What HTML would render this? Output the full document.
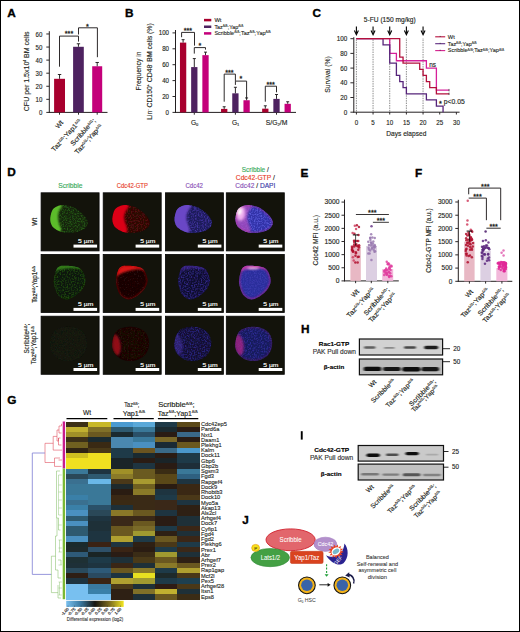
<!DOCTYPE html>
<html><head><meta charset="utf-8"><style>
html,body{margin:0;padding:0;background:#fff;}
body{width:520px;height:632px;overflow:hidden;}
svg{display:block;}
text{font-family:"Liberation Sans", sans-serif;}
</style></head><body>
<svg width="520" height="632" viewBox="0 0 520 632">
<rect x="0" y="0" width="520" height="632" fill="#fff"/>
<text x="7.2" y="17.3" font-size="11.8" font-weight="bold" fill="#000" stroke="#000" stroke-width="0.35">A</text>
<line x1="49.30" y1="31.20" x2="49.30" y2="112.80" stroke="#231f20" stroke-width="1" />
<line x1="48.80" y1="112.40" x2="107.50" y2="112.40" stroke="#231f20" stroke-width="1" />
<line x1="46.30" y1="112.40" x2="49.30" y2="112.40" stroke="#231f20" stroke-width="0.95" />
<text x="42.30" y="115.00" font-size="7.0" fill="#231f20" stroke="#231f20" stroke-width="0.14" textLength="3.40" lengthAdjust="spacingAndGlyphs" text-anchor="end" >0</text>
<line x1="46.30" y1="99.33" x2="49.30" y2="99.33" stroke="#231f20" stroke-width="0.95" />
<text x="42.30" y="101.93" font-size="7.0" fill="#231f20" stroke="#231f20" stroke-width="0.14" textLength="6.80" lengthAdjust="spacingAndGlyphs" text-anchor="end" >10</text>
<line x1="46.30" y1="86.26" x2="49.30" y2="86.26" stroke="#231f20" stroke-width="0.95" />
<text x="42.30" y="88.86" font-size="7.0" fill="#231f20" stroke="#231f20" stroke-width="0.14" textLength="6.80" lengthAdjust="spacingAndGlyphs" text-anchor="end" >20</text>
<line x1="46.30" y1="73.19" x2="49.30" y2="73.19" stroke="#231f20" stroke-width="0.95" />
<text x="42.30" y="75.79" font-size="7.0" fill="#231f20" stroke="#231f20" stroke-width="0.14" textLength="6.80" lengthAdjust="spacingAndGlyphs" text-anchor="end" >30</text>
<line x1="46.30" y1="60.12" x2="49.30" y2="60.12" stroke="#231f20" stroke-width="0.95" />
<text x="42.30" y="62.72" font-size="7.0" fill="#231f20" stroke="#231f20" stroke-width="0.14" textLength="6.80" lengthAdjust="spacingAndGlyphs" text-anchor="end" >40</text>
<line x1="46.30" y1="47.05" x2="49.30" y2="47.05" stroke="#231f20" stroke-width="0.95" />
<text x="42.30" y="49.65" font-size="7.0" fill="#231f20" stroke="#231f20" stroke-width="0.14" textLength="6.80" lengthAdjust="spacingAndGlyphs" text-anchor="end" >50</text>
<line x1="46.30" y1="33.98" x2="49.30" y2="33.98" stroke="#231f20" stroke-width="0.95" />
<text x="42.30" y="36.58" font-size="7.0" fill="#231f20" stroke="#231f20" stroke-width="0.14" textLength="6.80" lengthAdjust="spacingAndGlyphs" text-anchor="end" >60</text>
<rect x="54.10" y="78.81" width="10.90" height="33.59" fill="#a8002e" />
<line x1="59.55" y1="78.81" x2="59.55" y2="74.50" stroke="#231f20" stroke-width="0.95" />
<line x1="57.85" y1="74.50" x2="61.25" y2="74.50" stroke="#231f20" stroke-width="0.95" />
<rect x="73.10" y="46.79" width="10.70" height="65.61" fill="#4e2260" />
<line x1="78.45" y1="46.79" x2="78.45" y2="43.78" stroke="#231f20" stroke-width="0.95" />
<line x1="76.75" y1="43.78" x2="80.15" y2="43.78" stroke="#231f20" stroke-width="0.95" />
<rect x="92.20" y="66.26" width="10.00" height="46.14" fill="#c4007a" />
<line x1="97.20" y1="66.26" x2="97.20" y2="62.47" stroke="#231f20" stroke-width="0.95" />
<line x1="95.50" y1="62.47" x2="98.90" y2="62.47" stroke="#231f20" stroke-width="0.95" />
<line x1="59.50" y1="112.40" x2="59.50" y2="114.70" stroke="#231f20" stroke-width="0.95" />
<line x1="78.50" y1="112.40" x2="78.50" y2="114.70" stroke="#231f20" stroke-width="0.95" />
<line x1="97.20" y1="112.40" x2="97.20" y2="114.70" stroke="#231f20" stroke-width="0.95" />
<polyline points="59.50,66.70 59.50,36.10 78.50,36.10 78.50,41.60" stroke="#231f20" stroke-width="0.95" fill="none" />
<polyline points="78.50,34.50 78.50,27.80 97.40,27.80 97.40,57.20" stroke="#231f20" stroke-width="0.95" fill="none" />
<text x="69.00" y="36.35" font-size="7.2" fill="#231f20" stroke="#231f20" stroke-width="0.3" text-anchor="middle" >***</text>
<text x="87.50" y="28.95" font-size="7.2" fill="#231f20" stroke="#231f20" stroke-width="0.3" text-anchor="middle" >*</text>
<text transform="translate(29.00 71.30) rotate(-90)" font-size="7.6" fill="#231f20" stroke="#231f20" stroke-width="0.14" textLength="79.80" lengthAdjust="spacingAndGlyphs" text-anchor="middle" >CFU per 1.5x10<tspan font-size="3.6" dy="-2.6">4</tspan><tspan dy="2.6">&#8203;</tspan> BM cells</text>
<text transform="translate(63.60 123.00) rotate(-48)" font-size="6.6" fill="#231f20" stroke="#231f20" stroke-width="0.14" text-anchor="end" >Wt</text>
<text transform="translate(81.80 121.50) rotate(-48)" font-size="6.6" fill="#231f20" stroke="#231f20" stroke-width="0.14" textLength="41.00" lengthAdjust="spacingAndGlyphs" text-anchor="end" >Taz<tspan font-size="3.6" dy="-2.3">Δ/Δ</tspan><tspan dy="2.3">&#8203;</tspan>;Yap1<tspan font-size="3.6" dy="-2.3">Δ/Δ</tspan><tspan dy="2.3">&#8203;</tspan></text>
<text transform="translate(96.00 121.00) rotate(-48)" font-size="6.6" fill="#231f20" stroke="#231f20" stroke-width="0.14" textLength="34.00" lengthAdjust="spacingAndGlyphs" text-anchor="end" >Scribble<tspan font-size="3.6" dy="-2.3">Δ/Δ</tspan><tspan dy="2.3">&#8203;</tspan>;</text>
<text transform="translate(103.00 126.50) rotate(-48)" font-size="6.6" fill="#231f20" stroke="#231f20" stroke-width="0.14" textLength="38.00" lengthAdjust="spacingAndGlyphs" text-anchor="end" >Taz<tspan font-size="3.6" dy="-2.3">Δ/Δ</tspan><tspan dy="2.3">&#8203;</tspan>;Yap<tspan font-size="3.6" dy="-2.3">Δ/Δ</tspan><tspan dy="2.3">&#8203;</tspan></text>
<text x="124.9" y="17.1" font-size="11.8" font-weight="bold" fill="#000" stroke="#000" stroke-width="0.35">B</text>
<line x1="175.50" y1="30.00" x2="175.50" y2="112.80" stroke="#231f20" stroke-width="1" />
<line x1="175.00" y1="112.40" x2="296.00" y2="112.40" stroke="#231f20" stroke-width="1" />
<line x1="172.50" y1="112.40" x2="175.50" y2="112.40" stroke="#231f20" stroke-width="0.95" />
<text x="169.00" y="114.80" font-size="6.8" fill="#231f20" stroke="#231f20" stroke-width="0.14" textLength="3.42" lengthAdjust="spacingAndGlyphs" text-anchor="end" >0</text>
<line x1="172.50" y1="96.50" x2="175.50" y2="96.50" stroke="#231f20" stroke-width="0.95" />
<text x="169.00" y="98.90" font-size="6.8" fill="#231f20" stroke="#231f20" stroke-width="0.14" textLength="6.84" lengthAdjust="spacingAndGlyphs" text-anchor="end" >20</text>
<line x1="172.50" y1="80.60" x2="175.50" y2="80.60" stroke="#231f20" stroke-width="0.95" />
<text x="169.00" y="83.00" font-size="6.8" fill="#231f20" stroke="#231f20" stroke-width="0.14" textLength="6.84" lengthAdjust="spacingAndGlyphs" text-anchor="end" >40</text>
<line x1="172.50" y1="64.70" x2="175.50" y2="64.70" stroke="#231f20" stroke-width="0.95" />
<text x="169.00" y="67.10" font-size="6.8" fill="#231f20" stroke="#231f20" stroke-width="0.14" textLength="6.84" lengthAdjust="spacingAndGlyphs" text-anchor="end" >60</text>
<line x1="172.50" y1="48.80" x2="175.50" y2="48.80" stroke="#231f20" stroke-width="0.95" />
<text x="169.00" y="51.20" font-size="6.8" fill="#231f20" stroke="#231f20" stroke-width="0.14" textLength="6.84" lengthAdjust="spacingAndGlyphs" text-anchor="end" >80</text>
<line x1="172.50" y1="32.90" x2="175.50" y2="32.90" stroke="#231f20" stroke-width="0.95" />
<text x="169.00" y="35.30" font-size="6.8" fill="#231f20" stroke="#231f20" stroke-width="0.14" textLength="10.26" lengthAdjust="spacingAndGlyphs" text-anchor="end" >100</text>
<line x1="194.30" y1="112.40" x2="194.30" y2="114.70" stroke="#231f20" stroke-width="0.95" />
<rect x="179.95" y="42.60" width="6.30" height="69.80" fill="#a8002e" />
<line x1="183.10" y1="42.60" x2="183.10" y2="39.66" stroke="#231f20" stroke-width="0.95" />
<line x1="181.60" y1="39.66" x2="184.60" y2="39.66" stroke="#231f20" stroke-width="0.95" />
<rect x="191.15" y="67.09" width="6.30" height="45.32" fill="#4e2260" />
<line x1="194.30" y1="67.09" x2="194.30" y2="58.58" stroke="#231f20" stroke-width="0.95" />
<line x1="192.80" y1="58.58" x2="195.80" y2="58.58" stroke="#231f20" stroke-width="0.95" />
<rect x="202.35" y="55.16" width="6.30" height="57.24" fill="#c4007a" />
<line x1="205.50" y1="55.16" x2="205.50" y2="52.14" stroke="#231f20" stroke-width="0.95" />
<line x1="204.00" y1="52.14" x2="207.00" y2="52.14" stroke="#231f20" stroke-width="0.95" />
<line x1="235.40" y1="112.40" x2="235.40" y2="114.70" stroke="#231f20" stroke-width="0.95" />
<rect x="221.05" y="108.90" width="6.30" height="3.50" fill="#a8002e" />
<line x1="224.20" y1="108.90" x2="224.20" y2="106.76" stroke="#231f20" stroke-width="0.95" />
<line x1="222.70" y1="106.76" x2="225.70" y2="106.76" stroke="#231f20" stroke-width="0.95" />
<rect x="232.25" y="93.32" width="6.30" height="19.08" fill="#4e2260" />
<line x1="235.40" y1="93.32" x2="235.40" y2="87.28" stroke="#231f20" stroke-width="0.95" />
<line x1="233.90" y1="87.28" x2="236.90" y2="87.28" stroke="#231f20" stroke-width="0.95" />
<rect x="243.45" y="100.24" width="6.30" height="12.16" fill="#c4007a" />
<line x1="246.60" y1="100.24" x2="246.60" y2="97.93" stroke="#231f20" stroke-width="0.95" />
<line x1="245.10" y1="97.93" x2="248.10" y2="97.93" stroke="#231f20" stroke-width="0.95" />
<line x1="276.50" y1="112.40" x2="276.50" y2="114.70" stroke="#231f20" stroke-width="0.95" />
<rect x="262.15" y="108.66" width="6.30" height="3.74" fill="#a8002e" />
<line x1="265.30" y1="108.66" x2="265.30" y2="105.80" stroke="#231f20" stroke-width="0.95" />
<line x1="263.80" y1="105.80" x2="266.80" y2="105.80" stroke="#231f20" stroke-width="0.95" />
<rect x="273.35" y="98.89" width="6.30" height="13.52" fill="#4e2260" />
<line x1="276.50" y1="98.89" x2="276.50" y2="94.51" stroke="#231f20" stroke-width="0.95" />
<line x1="275.00" y1="94.51" x2="278.00" y2="94.51" stroke="#231f20" stroke-width="0.95" />
<rect x="284.55" y="103.81" width="6.30" height="8.59" fill="#c4007a" />
<line x1="287.70" y1="103.81" x2="287.70" y2="101.75" stroke="#231f20" stroke-width="0.95" />
<line x1="286.20" y1="101.75" x2="289.20" y2="101.75" stroke="#231f20" stroke-width="0.95" />
<polyline points="181.60,37.20 181.60,32.40 194.50,32.40 194.50,45.60" stroke="#231f20" stroke-width="0.95" fill="none" />
<text x="187.90" y="33.15" font-size="7.2" fill="#231f20" stroke="#231f20" stroke-width="0.3" text-anchor="middle" >***</text>
<polyline points="194.30,53.60 194.30,47.60 205.50,47.60 205.50,49.60" stroke="#231f20" stroke-width="0.95" fill="none" />
<text x="199.90" y="48.15" font-size="7.2" fill="#231f20" stroke="#231f20" stroke-width="0.3" text-anchor="middle" >*</text>
<polyline points="224.20,101.70 224.20,74.10 235.40,74.10 235.40,80.90" stroke="#231f20" stroke-width="0.95" fill="none" />
<text x="229.40" y="75.15" font-size="7.2" fill="#231f20" stroke="#231f20" stroke-width="0.3" text-anchor="middle" >***</text>
<polyline points="235.40,84.90 235.40,81.10 246.60,81.10 246.60,99.00" stroke="#231f20" stroke-width="0.95" fill="none" />
<text x="241.00" y="81.35" font-size="7.2" fill="#231f20" stroke="#231f20" stroke-width="0.3" text-anchor="middle" >*</text>
<polyline points="265.30,101.70 265.30,86.20 276.50,86.20 276.50,92.30" stroke="#231f20" stroke-width="0.95" fill="none" />
<text x="270.60" y="86.65" font-size="7.2" fill="#231f20" stroke="#231f20" stroke-width="0.3" text-anchor="middle" >***</text>
<text x="194.60" y="124.60" font-size="6.6" fill="#231f20" stroke="#231f20" stroke-width="0.14" text-anchor="middle" >G<tspan font-size="4" dy="1.2">0</tspan><tspan dy="-1.2">&#8203;</tspan></text>
<text x="235.60" y="124.60" font-size="6.6" fill="#231f20" stroke="#231f20" stroke-width="0.14" text-anchor="middle" >G<tspan font-size="4" dy="1.2">1</tspan><tspan dy="-1.2">&#8203;</tspan></text>
<text x="276.60" y="124.60" font-size="6.6" fill="#231f20" stroke="#231f20" stroke-width="0.14" textLength="21.50" lengthAdjust="spacingAndGlyphs" text-anchor="middle" >S/G<tspan font-size="4" dy="1.2">2</tspan><tspan dy="-1.2">&#8203;</tspan>/M</text>
<text transform="translate(140.60 71.00) rotate(-90)" font-size="7.0" fill="#231f20" stroke="#231f20" stroke-width="0.14" textLength="38.80" lengthAdjust="spacingAndGlyphs" text-anchor="middle" >Frequency in</text>
<text transform="translate(151.60 71.50) rotate(-90)" font-size="7.0" fill="#231f20" stroke="#231f20" stroke-width="0.14" textLength="96.50" lengthAdjust="spacingAndGlyphs" text-anchor="middle" >Lin<tspan font-size="3.6" dy="-2.6">-</tspan><tspan dy="2.6">&#8203;</tspan> CD150<tspan font-size="3.6" dy="-2.6">+</tspan><tspan dy="2.6">&#8203;</tspan> CD48<tspan font-size="3.6" dy="-2.6">-</tspan><tspan dy="2.6">&#8203;</tspan> BM cells (%)</text>
<rect x="204.00" y="18.85" width="7.30" height="2.50" fill="#a8002e" />
<text x="214.40" y="21.90" font-size="5.1" fill="#231f20" stroke="#231f20" stroke-width="0.1" textLength="7.00" lengthAdjust="spacingAndGlyphs" >Wt</text>
<rect x="204.00" y="25.50" width="7.30" height="2.50" fill="#4e2260" />
<text x="214.40" y="28.55" font-size="5.1" fill="#231f20" stroke="#231f20" stroke-width="0.1" textLength="28.90" lengthAdjust="spacingAndGlyphs" >Taz<tspan font-size="3" dy="-1.8">Δ/Δ</tspan><tspan dy="1.8">&#8203;</tspan>;Yap<tspan font-size="3" dy="-1.8">Δ/Δ</tspan><tspan dy="1.8">&#8203;</tspan></text>
<rect x="204.00" y="32.15" width="7.30" height="2.50" fill="#c4007a" />
<text x="214.40" y="35.20" font-size="5.1" fill="#231f20" stroke="#231f20" stroke-width="0.1" textLength="56.30" lengthAdjust="spacingAndGlyphs" >Scribble<tspan font-size="3" dy="-1.8">Δ/Δ</tspan><tspan dy="1.8">&#8203;</tspan>;Taz<tspan font-size="3" dy="-1.8">Δ/Δ</tspan><tspan dy="1.8">&#8203;</tspan>;Yap<tspan font-size="3" dy="-1.8">Δ/Δ</tspan><tspan dy="1.8">&#8203;</tspan></text>
<text x="312.4" y="17.3" font-size="11.8" font-weight="bold" fill="#000" stroke="#000" stroke-width="0.35">C</text>
<line x1="353.80" y1="37.20" x2="353.80" y2="112.60" stroke="#231f20" stroke-width="1" />
<line x1="353.30" y1="112.20" x2="459.60" y2="112.20" stroke="#231f20" stroke-width="1" />
<line x1="350.40" y1="112.20" x2="353.80" y2="112.20" stroke="#231f20" stroke-width="0.95" />
<text x="347.20" y="114.60" font-size="6.8" fill="#231f20" stroke="#231f20" stroke-width="0.14" textLength="3.52" lengthAdjust="spacingAndGlyphs" text-anchor="end" >0</text>
<line x1="350.40" y1="97.50" x2="353.80" y2="97.50" stroke="#231f20" stroke-width="0.95" />
<text x="347.20" y="99.90" font-size="6.8" fill="#231f20" stroke="#231f20" stroke-width="0.14" textLength="7.04" lengthAdjust="spacingAndGlyphs" text-anchor="end" >20</text>
<line x1="350.40" y1="82.80" x2="353.80" y2="82.80" stroke="#231f20" stroke-width="0.95" />
<text x="347.20" y="85.20" font-size="6.8" fill="#231f20" stroke="#231f20" stroke-width="0.14" textLength="7.04" lengthAdjust="spacingAndGlyphs" text-anchor="end" >40</text>
<line x1="350.40" y1="68.10" x2="353.80" y2="68.10" stroke="#231f20" stroke-width="0.95" />
<text x="347.20" y="70.50" font-size="6.8" fill="#231f20" stroke="#231f20" stroke-width="0.14" textLength="7.04" lengthAdjust="spacingAndGlyphs" text-anchor="end" >60</text>
<line x1="350.40" y1="53.40" x2="353.80" y2="53.40" stroke="#231f20" stroke-width="0.95" />
<text x="347.20" y="55.80" font-size="6.8" fill="#231f20" stroke="#231f20" stroke-width="0.14" textLength="7.04" lengthAdjust="spacingAndGlyphs" text-anchor="end" >80</text>
<line x1="350.40" y1="38.70" x2="353.80" y2="38.70" stroke="#231f20" stroke-width="0.95" />
<text x="347.20" y="41.10" font-size="6.8" fill="#231f20" stroke="#231f20" stroke-width="0.14" textLength="10.56" lengthAdjust="spacingAndGlyphs" text-anchor="end" >100</text>
<line x1="356.40" y1="112.20" x2="356.40" y2="114.50" stroke="#231f20" stroke-width="0.95" />
<text x="356.40" y="124.70" font-size="7.0" fill="#231f20" stroke="#231f20" stroke-width="0.14" textLength="3.45" lengthAdjust="spacingAndGlyphs" text-anchor="middle" >0</text>
<line x1="373.06" y1="112.20" x2="373.06" y2="114.50" stroke="#231f20" stroke-width="0.95" />
<text x="373.06" y="124.70" font-size="7.0" fill="#231f20" stroke="#231f20" stroke-width="0.14" textLength="3.45" lengthAdjust="spacingAndGlyphs" text-anchor="middle" >5</text>
<line x1="389.73" y1="112.20" x2="389.73" y2="114.50" stroke="#231f20" stroke-width="0.95" />
<text x="389.73" y="124.70" font-size="7.0" fill="#231f20" stroke="#231f20" stroke-width="0.14" textLength="6.90" lengthAdjust="spacingAndGlyphs" text-anchor="middle" >10</text>
<line x1="406.39" y1="112.20" x2="406.39" y2="114.50" stroke="#231f20" stroke-width="0.95" />
<text x="406.39" y="124.70" font-size="7.0" fill="#231f20" stroke="#231f20" stroke-width="0.14" textLength="6.90" lengthAdjust="spacingAndGlyphs" text-anchor="middle" >15</text>
<line x1="423.06" y1="112.20" x2="423.06" y2="114.50" stroke="#231f20" stroke-width="0.95" />
<text x="423.06" y="124.70" font-size="7.0" fill="#231f20" stroke="#231f20" stroke-width="0.14" textLength="6.90" lengthAdjust="spacingAndGlyphs" text-anchor="middle" >20</text>
<line x1="439.72" y1="112.20" x2="439.72" y2="114.50" stroke="#231f20" stroke-width="0.95" />
<text x="439.72" y="124.70" font-size="7.0" fill="#231f20" stroke="#231f20" stroke-width="0.14" textLength="6.90" lengthAdjust="spacingAndGlyphs" text-anchor="middle" >25</text>
<line x1="456.39" y1="112.20" x2="456.39" y2="114.50" stroke="#231f20" stroke-width="0.95" />
<text x="456.39" y="124.70" font-size="7.0" fill="#231f20" stroke="#231f20" stroke-width="0.14" textLength="6.90" lengthAdjust="spacingAndGlyphs" text-anchor="middle" >30</text>
<line x1="356.40" y1="38.70" x2="356.40" y2="112.20" stroke="#111" stroke-width="0.7" stroke-dasharray="0.7 1.0"/>
<line x1="356.40" y1="26.50" x2="356.40" y2="33.50" stroke="#000" stroke-width="1.1" />
<path d="M354.40,30.6 L356.40,34.8 L358.40,30.6" fill="none" stroke="#000" stroke-width="1.1"/>
<line x1="373.06" y1="38.70" x2="373.06" y2="112.20" stroke="#111" stroke-width="0.7" stroke-dasharray="0.7 1.0"/>
<line x1="373.06" y1="26.50" x2="373.06" y2="33.50" stroke="#000" stroke-width="1.1" />
<path d="M371.06,30.6 L373.06,34.8 L375.06,30.6" fill="none" stroke="#000" stroke-width="1.1"/>
<line x1="389.73" y1="38.70" x2="389.73" y2="112.20" stroke="#111" stroke-width="0.7" stroke-dasharray="0.7 1.0"/>
<line x1="389.73" y1="26.50" x2="389.73" y2="33.50" stroke="#000" stroke-width="1.1" />
<path d="M387.73,30.6 L389.73,34.8 L391.73,30.6" fill="none" stroke="#000" stroke-width="1.1"/>
<line x1="406.39" y1="38.70" x2="406.39" y2="112.20" stroke="#111" stroke-width="0.7" stroke-dasharray="0.7 1.0"/>
<line x1="406.39" y1="26.50" x2="406.39" y2="33.50" stroke="#000" stroke-width="1.1" />
<path d="M404.39,30.6 L406.39,34.8 L408.39,30.6" fill="none" stroke="#000" stroke-width="1.1"/>
<line x1="423.06" y1="38.70" x2="423.06" y2="112.20" stroke="#111" stroke-width="0.7" stroke-dasharray="0.7 1.0"/>
<line x1="423.06" y1="26.50" x2="423.06" y2="33.50" stroke="#000" stroke-width="1.1" />
<path d="M421.06,30.6 L423.06,34.8 L425.06,30.6" fill="none" stroke="#000" stroke-width="1.1"/>
<text x="389.80" y="22.30" font-size="6.6" fill="#231f20" stroke="#231f20" stroke-width="0.14" textLength="51.90" lengthAdjust="spacingAndGlyphs" text-anchor="middle" >5-FU (150 mg/kg)</text>
<text x="406.30" y="135.80" font-size="7.4" fill="#231f20" stroke="#231f20" stroke-width="0.14" textLength="40.00" lengthAdjust="spacingAndGlyphs" text-anchor="middle" >Days elapsed</text>
<text transform="translate(330.20 74.50) rotate(-90)" font-size="7.6" fill="#231f20" stroke="#231f20" stroke-width="0.14" textLength="36.30" lengthAdjust="spacingAndGlyphs" text-anchor="middle" >Survival (%)</text>
<polyline points="356.40,38.70 389.73,38.70 389.73,53.40 396.40,53.40 396.40,60.75 426.39,60.75 426.39,68.10 436.39,68.10 436.39,90.15 449.06,90.15" stroke="#d6209a" stroke-width="1.3" fill="none" />
<polyline points="356.40,38.70 383.06,38.70 383.06,44.80 389.73,44.80 389.73,63.18 396.40,63.18 396.40,75.45 399.73,75.45 399.73,81.55 403.06,81.55 403.06,87.72 406.39,87.72 406.39,93.83 426.39,93.83 426.39,99.93 436.39,99.93 436.39,106.10 443.06,106.10 443.06,112.20 443.06,112.20" stroke="#56247a" stroke-width="1.3" fill="none" />
<polyline points="356.40,38.70 399.73,38.70 399.73,57.08 403.06,57.08 403.06,63.18 419.73,63.18 419.73,69.35 423.06,69.35 423.06,75.45 426.39,75.45 426.39,81.55 429.73,81.55 429.73,87.72 436.39,87.72 436.39,93.83 449.06,93.83" stroke="#b3103c" stroke-width="1.3" fill="none" />
<line x1="449.06" y1="88.95" x2="449.06" y2="91.35" stroke="#222" stroke-width="0.7" />
<line x1="449.06" y1="92.62" x2="449.06" y2="95.03" stroke="#222" stroke-width="0.7" />
<text x="432.50" y="67.00" font-size="6.4" fill="#231f20" stroke="#231f20" stroke-width="0.14" text-anchor="middle" >ns</text>
<text x="440.30" y="105.75" font-size="7.2" fill="#231f20" stroke="#231f20" stroke-width="0.3" text-anchor="middle" >*</text>
<text x="443.80" y="103.60" font-size="6.6" fill="#231f20" stroke="#231f20" stroke-width="0.14" textLength="20.90" lengthAdjust="spacingAndGlyphs" >p&lt;0.05</text>
<line x1="435.20" y1="36.80" x2="445.20" y2="36.80" stroke="#b8103e" stroke-width="1.1" />
<line x1="440.20" y1="35.90" x2="440.20" y2="37.00" stroke="#222" stroke-width="0.6" />
<text x="447.80" y="38.60" font-size="5.1" fill="#231f20" stroke="#231f20" stroke-width="0.1" textLength="7.00" lengthAdjust="spacingAndGlyphs" >Wt</text>
<line x1="435.20" y1="43.70" x2="445.20" y2="43.70" stroke="#5e2a80" stroke-width="1.1" />
<line x1="440.20" y1="42.80" x2="440.20" y2="43.90" stroke="#222" stroke-width="0.6" />
<text x="447.80" y="45.50" font-size="5.1" fill="#231f20" stroke="#231f20" stroke-width="0.1" textLength="28.90" lengthAdjust="spacingAndGlyphs" >Taz<tspan font-size="3" dy="-1.8">Δ/Δ</tspan><tspan dy="1.8">&#8203;</tspan>;Yap<tspan font-size="3" dy="-1.8">Δ/Δ</tspan><tspan dy="1.8">&#8203;</tspan></text>
<line x1="435.20" y1="50.60" x2="445.20" y2="50.60" stroke="#d4208e" stroke-width="1.1" />
<line x1="440.20" y1="49.70" x2="440.20" y2="50.80" stroke="#222" stroke-width="0.6" />
<text x="447.80" y="52.40" font-size="5.1" fill="#231f20" stroke="#231f20" stroke-width="0.1" textLength="56.30" lengthAdjust="spacingAndGlyphs" >Scribble<tspan font-size="3" dy="-1.8">Δ/Δ</tspan><tspan dy="1.8">&#8203;</tspan>;Taz<tspan font-size="3" dy="-1.8">Δ/Δ</tspan><tspan dy="1.8">&#8203;</tspan>;Yap<tspan font-size="3" dy="-1.8">Δ/Δ</tspan><tspan dy="1.8">&#8203;</tspan></text>
<text x="7.3" y="176.2" font-size="11.8" font-weight="bold" fill="#000" stroke="#000" stroke-width="0.35">D</text>
<defs>
<filter id="blur1" x="-30%" y="-30%" width="160%" height="160%"><feGaussianBlur stdDeviation="1.0"/></filter>
<filter id="blur2" x="-30%" y="-30%" width="160%" height="160%"><feGaussianBlur stdDeviation="1.8"/></filter>
<filter id="soft" x="-10%" y="-10%" width="120%" height="120%"><feGaussianBlur stdDeviation="0.6"/></filter>
<filter id="speck" x="0" y="0" width="100%" height="100%">
<feTurbulence type="fractalNoise" baseFrequency="0.7" numOctaves="2" seed="4" result="n"/>
<feColorMatrix in="n" type="matrix" values="0 0 0 0 1  0 0 0 0 1  0 0 0 0 1  3.2 0 0 0 -1.35" result="a"/>
<feComposite in="SourceGraphic" in2="a" operator="in"/>
</filter>
</defs>
<rect x="41.10" y="192.80" width="58.00" height="58.10" fill="#13130b" stroke="#050505" stroke-width="0.8"/>
<rect x="103.20" y="192.80" width="58.00" height="58.10" fill="#13130b" stroke="#050505" stroke-width="0.8"/>
<rect x="165.40" y="192.80" width="58.00" height="58.10" fill="#13130b" stroke="#050505" stroke-width="0.8"/>
<rect x="226.30" y="192.80" width="58.00" height="58.10" fill="#13130b" stroke="#050505" stroke-width="0.8"/>
<rect x="41.10" y="254.40" width="58.00" height="58.10" fill="#13130b" stroke="#050505" stroke-width="0.8"/>
<rect x="103.20" y="254.40" width="58.00" height="58.10" fill="#13130b" stroke="#050505" stroke-width="0.8"/>
<rect x="165.40" y="254.40" width="58.00" height="58.10" fill="#13130b" stroke="#050505" stroke-width="0.8"/>
<rect x="226.30" y="254.40" width="58.00" height="58.10" fill="#13130b" stroke="#050505" stroke-width="0.8"/>
<rect x="41.10" y="316.20" width="58.00" height="58.10" fill="#13130b" stroke="#050505" stroke-width="0.8"/>
<rect x="103.20" y="316.20" width="58.00" height="58.10" fill="#13130b" stroke="#050505" stroke-width="0.8"/>
<rect x="165.40" y="316.20" width="58.00" height="58.10" fill="#13130b" stroke="#050505" stroke-width="0.8"/>
<rect x="226.30" y="316.20" width="58.00" height="58.10" fill="#13130b" stroke="#050505" stroke-width="0.8"/>
<text x="70.30" y="188.30" font-size="6.6" fill="#3bab5b" stroke="#3bab5b" stroke-width="0.14" textLength="24.20" lengthAdjust="spacingAndGlyphs" text-anchor="middle" >Scribble</text>
<text x="132.30" y="188.30" font-size="6.6" fill="#e8402a" stroke="#e8402a" stroke-width="0.14" textLength="31.00" lengthAdjust="spacingAndGlyphs" text-anchor="middle" >Cdc42-GTP</text>
<text x="194.20" y="188.30" font-size="6.6" fill="#8a52b8" stroke="#8a52b8" stroke-width="0.14" textLength="17.60" lengthAdjust="spacingAndGlyphs" text-anchor="middle" >Cdc42</text>
<text x="255.30" y="172.20" font-size="6.6" fill="#231f20" stroke="#231f20" stroke-width="0.14" textLength="27.00" lengthAdjust="spacingAndGlyphs" text-anchor="middle" ><tspan fill="#3bab5b" stroke="#3bab5b">Scribble</tspan> /</text>
<text x="255.30" y="179.70" font-size="6.6" fill="#231f20" stroke="#231f20" stroke-width="0.14" textLength="39.00" lengthAdjust="spacingAndGlyphs" text-anchor="middle" ><tspan fill="#e8402a" stroke="#e8402a">Cdc42-GTP</tspan> /</text>
<text x="255.30" y="187.80" font-size="6.6" fill="#231f20" stroke="#231f20" stroke-width="0.14" textLength="40.00" lengthAdjust="spacingAndGlyphs" text-anchor="middle" ><tspan fill="#8a52b8" stroke="#8a52b8">Cdc42</tspan> / <tspan fill="#3a3aa8" stroke="#3a3aa8">DAPI</tspan></text>
<text transform="translate(36.70 221.80) rotate(-90)" font-size="6.6" fill="#231f20" stroke="#231f20" stroke-width="0.14" text-anchor="middle" >Wt</text>
<text transform="translate(37.20 284.50) rotate(-90)" font-size="6.6" fill="#231f20" stroke="#231f20" stroke-width="0.14" textLength="36.50" lengthAdjust="spacingAndGlyphs" text-anchor="middle" >Taz<tspan font-size="3.6" dy="-2.4">Δ/Δ</tspan><tspan dy="2.4">&#8203;</tspan>;Yap1<tspan font-size="3.6" dy="-2.4">Δ/Δ</tspan><tspan dy="2.4">&#8203;</tspan></text>
<text transform="translate(28.90 338.60) rotate(-90)" font-size="6.6" fill="#231f20" stroke="#231f20" stroke-width="0.14" textLength="30.00" lengthAdjust="spacingAndGlyphs" text-anchor="middle" >Scribble<tspan font-size="3.6" dy="-2.4">Δ/Δ</tspan><tspan dy="2.4">&#8203;</tspan>;</text>
<text transform="translate(36.20 345.20) rotate(-90)" font-size="6.6" fill="#231f20" stroke="#231f20" stroke-width="0.14" textLength="38.00" lengthAdjust="spacingAndGlyphs" text-anchor="middle" >Taz<tspan font-size="3.6" dy="-2.4">Δ/Δ</tspan><tspan dy="2.4">&#8203;</tspan>;Yap1<tspan font-size="3.6" dy="-2.4">Δ/Δ</tspan><tspan dy="2.4">&#8203;</tspan></text>
<rect x="73.50" y="244.60" width="23.60" height="3.00" fill="#fff" />
<text x="85.70" y="243.10" font-size="6.2" fill="#fff" stroke="#fff" stroke-width="0.14" textLength="15.20" lengthAdjust="spacingAndGlyphs" text-anchor="middle" >5 µm</text>
<rect x="135.60" y="244.60" width="23.60" height="3.00" fill="#fff" />
<text x="147.80" y="243.10" font-size="6.2" fill="#fff" stroke="#fff" stroke-width="0.14" textLength="15.20" lengthAdjust="spacingAndGlyphs" text-anchor="middle" >5 µm</text>
<rect x="197.80" y="244.60" width="23.60" height="3.00" fill="#fff" />
<text x="210.00" y="243.10" font-size="6.2" fill="#fff" stroke="#fff" stroke-width="0.14" textLength="15.20" lengthAdjust="spacingAndGlyphs" text-anchor="middle" >5 µm</text>
<rect x="258.70" y="244.60" width="23.60" height="3.00" fill="#fff" />
<text x="270.90" y="243.10" font-size="6.2" fill="#fff" stroke="#fff" stroke-width="0.14" textLength="15.20" lengthAdjust="spacingAndGlyphs" text-anchor="middle" >5 µm</text>
<rect x="73.50" y="307.90" width="23.60" height="3.00" fill="#fff" />
<text x="85.70" y="306.40" font-size="6.2" fill="#fff" stroke="#fff" stroke-width="0.14" textLength="15.20" lengthAdjust="spacingAndGlyphs" text-anchor="middle" >5 µm</text>
<rect x="135.60" y="307.90" width="23.60" height="3.00" fill="#fff" />
<text x="147.80" y="306.40" font-size="6.2" fill="#fff" stroke="#fff" stroke-width="0.14" textLength="15.20" lengthAdjust="spacingAndGlyphs" text-anchor="middle" >5 µm</text>
<rect x="197.80" y="307.90" width="23.60" height="3.00" fill="#fff" />
<text x="210.00" y="306.40" font-size="6.2" fill="#fff" stroke="#fff" stroke-width="0.14" textLength="15.20" lengthAdjust="spacingAndGlyphs" text-anchor="middle" >5 µm</text>
<rect x="258.70" y="307.90" width="23.60" height="3.00" fill="#fff" />
<text x="270.90" y="306.40" font-size="6.2" fill="#fff" stroke="#fff" stroke-width="0.14" textLength="15.20" lengthAdjust="spacingAndGlyphs" text-anchor="middle" >5 µm</text>
<rect x="73.50" y="368.00" width="23.60" height="3.00" fill="#fff" />
<text x="85.70" y="366.50" font-size="6.2" fill="#fff" stroke="#fff" stroke-width="0.14" textLength="15.20" lengthAdjust="spacingAndGlyphs" text-anchor="middle" >5 µm</text>
<rect x="135.60" y="368.00" width="23.60" height="3.00" fill="#fff" />
<text x="147.80" y="366.50" font-size="6.2" fill="#fff" stroke="#fff" stroke-width="0.14" textLength="15.20" lengthAdjust="spacingAndGlyphs" text-anchor="middle" >5 µm</text>
<rect x="197.80" y="368.00" width="23.60" height="3.00" fill="#fff" />
<text x="210.00" y="366.50" font-size="6.2" fill="#fff" stroke="#fff" stroke-width="0.14" textLength="15.20" lengthAdjust="spacingAndGlyphs" text-anchor="middle" >5 µm</text>
<rect x="258.70" y="368.00" width="23.60" height="3.00" fill="#fff" />
<text x="270.90" y="366.50" font-size="6.2" fill="#fff" stroke="#fff" stroke-width="0.14" textLength="15.20" lengthAdjust="spacingAndGlyphs" text-anchor="middle" >5 µm</text>
<clipPath id="cc1"><path d="M50.40,217.20 C50.73,214.95 51.45,211.42 52.80,209.50 C54.15,207.58 56.42,206.42 58.50,205.70 C60.58,204.98 62.90,204.97 65.30,205.20 C67.70,205.43 70.50,206.05 72.90,207.10 C75.30,208.15 77.62,209.82 79.70,211.50 C81.78,213.18 84.07,215.28 85.40,217.20 C86.73,219.12 87.85,221.07 87.70,223.00 C87.55,224.93 86.32,227.28 84.50,228.80 C82.68,230.32 79.53,231.38 76.80,232.10 C74.07,232.82 70.83,233.17 68.10,233.10 C65.37,233.03 62.80,232.58 60.40,231.70 C58.00,230.82 55.30,229.25 53.70,227.80 C52.10,226.35 51.35,224.77 50.80,223.00 C50.25,221.23 50.07,219.45 50.40,217.20 Z"/></clipPath><g filter="url(#soft)"><g clip-path="url(#cc1)"><rect x="41.1" y="192.8" width="58" height="58" fill="#14240c"/><rect x="41.1" y="192.8" width="58" height="58" fill="#2e6a1a" filter="url(#speck)" opacity="0.75"/><path d="M46.10,212.80 C46.43,207.80 49.27,204.63 51.10,202.80 C52.93,200.97 55.27,201.38 57.10,201.80 C58.93,202.22 61.77,203.80 62.10,205.30 C62.43,206.80 59.77,208.88 59.10,210.80 C58.43,212.72 58.10,214.63 58.10,216.80 C58.10,218.97 58.60,221.63 59.10,223.80 C59.60,225.97 61.43,227.97 61.10,229.80 C60.77,231.63 59.10,234.30 57.10,234.80 C55.10,235.30 50.93,236.47 49.10,232.80 C47.27,229.13 45.77,217.80 46.10,212.80 Z" fill="#5cbc2c" filter="url(#blur1)" opacity="1"/></g></g>
<clipPath id="cc2"><path d="M112.50,217.20 C112.83,214.95 113.55,211.42 114.90,209.50 C116.25,207.58 118.52,206.42 120.60,205.70 C122.68,204.98 125.00,204.97 127.40,205.20 C129.80,205.43 132.60,206.05 135.00,207.10 C137.40,208.15 139.72,209.82 141.80,211.50 C143.88,213.18 146.17,215.28 147.50,217.20 C148.83,219.12 149.95,221.07 149.80,223.00 C149.65,224.93 148.42,227.28 146.60,228.80 C144.78,230.32 141.63,231.38 138.90,232.10 C136.17,232.82 132.93,233.17 130.20,233.10 C127.47,233.03 124.90,232.58 122.50,231.70 C120.10,230.82 117.40,229.25 115.80,227.80 C114.20,226.35 113.45,224.77 112.90,223.00 C112.35,221.23 112.17,219.45 112.50,217.20 Z"/></clipPath><g filter="url(#soft)"><g clip-path="url(#cc2)"><rect x="103.2" y="192.8" width="58" height="58" fill="#2a0806"/><rect x="103.2" y="192.8" width="58" height="58" fill="#6a1010" filter="url(#speck)" opacity="0.75"/><path d="M108.20,212.80 C108.53,207.80 110.70,204.63 113.20,202.80 C115.70,200.97 120.53,201.38 123.20,201.80 C125.87,202.22 128.78,203.68 129.20,205.30 C129.62,206.92 126.53,209.52 125.70,211.50 C124.87,213.48 124.25,215.28 124.20,217.20 C124.15,219.12 124.87,220.90 125.40,223.00 C125.93,225.10 127.60,227.83 127.40,229.80 C127.20,231.77 126.90,234.30 124.20,234.80 C121.50,235.30 113.87,236.47 111.20,232.80 C108.53,229.13 107.87,217.80 108.20,212.80 Z" fill="#dc0612" filter="url(#blur1)" opacity="1"/></g></g>
<clipPath id="cc3"><path d="M174.70,217.20 C175.03,214.95 175.75,211.42 177.10,209.50 C178.45,207.58 180.72,206.42 182.80,205.70 C184.88,204.98 187.20,204.97 189.60,205.20 C192.00,205.43 194.80,206.05 197.20,207.10 C199.60,208.15 201.92,209.82 204.00,211.50 C206.08,213.18 208.37,215.28 209.70,217.20 C211.03,219.12 212.15,221.07 212.00,223.00 C211.85,224.93 210.62,227.28 208.80,228.80 C206.98,230.32 203.83,231.38 201.10,232.10 C198.37,232.82 195.13,233.17 192.40,233.10 C189.67,233.03 187.10,232.58 184.70,231.70 C182.30,230.82 179.60,229.25 178.00,227.80 C176.40,226.35 175.65,224.77 175.10,223.00 C174.55,221.23 174.37,219.45 174.70,217.20 Z"/></clipPath><g filter="url(#soft)"><g clip-path="url(#cc3)"><rect x="165.4" y="192.8" width="58" height="58" fill="#1e1a5a"/><rect x="165.4" y="192.8" width="58" height="58" fill="#4a3cb0" filter="url(#speck)" opacity="0.8"/><path d="M170.40,212.80 C170.73,207.80 172.90,204.63 175.40,202.80 C177.90,200.97 182.73,201.38 185.40,201.80 C188.07,202.22 190.98,203.68 191.40,205.30 C191.82,206.92 188.73,209.52 187.90,211.50 C187.07,213.48 186.45,215.28 186.40,217.20 C186.35,219.12 187.07,220.90 187.60,223.00 C188.13,225.10 189.80,227.83 189.60,229.80 C189.40,231.77 189.10,234.30 186.40,234.80 C183.70,235.30 176.07,236.47 173.40,232.80 C170.73,229.13 170.07,217.80 170.40,212.80 Z" fill="#6a46c6" filter="url(#blur1)" opacity="1"/></g></g>
<clipPath id="cc4"><path d="M235.60,217.20 C235.93,214.95 236.65,211.42 238.00,209.50 C239.35,207.58 241.62,206.42 243.70,205.70 C245.78,204.98 248.10,204.97 250.50,205.20 C252.90,205.43 255.70,206.05 258.10,207.10 C260.50,208.15 262.82,209.82 264.90,211.50 C266.98,213.18 269.27,215.28 270.60,217.20 C271.93,219.12 273.05,221.07 272.90,223.00 C272.75,224.93 271.52,227.28 269.70,228.80 C267.88,230.32 264.73,231.38 262.00,232.10 C259.27,232.82 256.03,233.17 253.30,233.10 C250.57,233.03 248.00,232.58 245.60,231.70 C243.20,230.82 240.50,229.25 238.90,227.80 C237.30,226.35 236.55,224.77 236.00,223.00 C235.45,221.23 235.27,219.45 235.60,217.20 Z"/></clipPath><g filter="url(#soft)"><g clip-path="url(#cc4)"><rect x="226.3" y="192.8" width="58" height="58" fill="#3032a8"/><rect x="226.3" y="192.8" width="58" height="58" fill="#6060e0" filter="url(#speck)" opacity="0.8"/><path d="M231.30,212.80 C231.63,207.80 233.80,204.63 236.30,202.80 C238.80,200.97 243.63,201.38 246.30,201.80 C248.97,202.22 251.88,203.68 252.30,205.30 C252.72,206.92 249.63,209.52 248.80,211.50 C247.97,213.48 247.35,215.28 247.30,217.20 C247.25,219.12 247.97,220.90 248.50,223.00 C249.03,225.10 250.70,227.83 250.50,229.80 C250.30,231.77 250.00,234.30 247.30,234.80 C244.60,235.30 236.97,236.47 234.30,232.80 C231.63,229.13 230.97,217.80 231.30,212.80 Z" fill="#b050c0" filter="url(#blur1)" opacity="0.75"/><ellipse cx="240.30" cy="212.80" rx="5" ry="8" fill="#f0b0f0" filter="url(#blur2)" opacity="1" transform="rotate(0 240.30 212.80)"/><ellipse cx="238.80" cy="210.80" rx="2.8" ry="4" fill="#ffffff" filter="url(#blur1)" opacity="1" transform="rotate(0 238.80 210.80)"/><path d="M235.60,217.20 C235.93,214.95 236.65,211.42 238.00,209.50 C239.35,207.58 241.62,206.42 243.70,205.70 C245.78,204.98 248.10,204.97 250.50,205.20 C252.90,205.43 255.70,206.05 258.10,207.10 C260.50,208.15 262.82,209.82 264.90,211.50 C266.98,213.18 269.27,215.28 270.60,217.20 C271.93,219.12 273.05,221.07 272.90,223.00 C272.75,224.93 271.52,227.28 269.70,228.80 C267.88,230.32 264.73,231.38 262.00,232.10 C259.27,232.82 256.03,233.17 253.30,233.10 C250.57,233.03 248.00,232.58 245.60,231.70 C243.20,230.82 240.50,229.25 238.90,227.80 C237.30,226.35 236.55,224.77 236.00,223.00 C235.45,221.23 235.27,219.45 235.60,217.20 Z" fill="none" stroke="#c02080" stroke-width="1.0" filter="url(#blur1)"/></g></g>
<clipPath id="cc5"><path d="M57.80,267.50 C59.97,265.23 63.30,265.70 66.90,265.80 C70.50,265.90 76.47,266.50 79.40,268.10 C82.33,269.70 83.55,272.85 84.50,275.40 C85.45,277.95 85.95,280.55 85.10,283.40 C84.25,286.25 82.25,289.85 79.40,292.50 C76.55,295.15 71.40,298.73 68.00,299.30 C64.60,299.87 61.17,297.80 59.00,295.90 C56.83,294.00 55.85,290.65 55.00,287.90 C54.15,285.15 53.43,282.80 53.90,279.40 C54.37,276.00 55.63,269.77 57.80,267.50 Z"/></clipPath><g filter="url(#soft)"><g clip-path="url(#cc5)"><rect x="41.1" y="254.4" width="58" height="58" fill="#0c1208"/><rect x="41.1" y="254.4" width="58" height="58" fill="#2a6a18" filter="url(#speck)" opacity="0.6"/><path d="M55.10,262.40 C59.43,261.07 76.43,261.40 81.10,262.40 C85.77,263.40 84.77,267.43 83.10,268.40 C81.43,269.37 74.77,268.03 71.10,268.20 C67.43,268.37 63.77,269.03 61.10,269.40 C58.43,269.77 56.10,271.57 55.10,270.40 C54.10,269.23 50.77,263.73 55.10,262.40 Z" fill="#3c9022" filter="url(#blur1)" opacity="0.85"/><path d="M57.80,267.50 C59.97,265.23 63.30,265.70 66.90,265.80 C70.50,265.90 76.47,266.50 79.40,268.10 C82.33,269.70 83.55,272.85 84.50,275.40 C85.45,277.95 85.95,280.55 85.10,283.40 C84.25,286.25 82.25,289.85 79.40,292.50 C76.55,295.15 71.40,298.73 68.00,299.30 C64.60,299.87 61.17,297.80 59.00,295.90 C56.83,294.00 55.85,290.65 55.00,287.90 C54.15,285.15 53.43,282.80 53.90,279.40 C54.37,276.00 55.63,269.77 57.80,267.50 Z" fill="none" stroke="#2a6a18" stroke-width="1.0" filter="url(#blur1)"/></g></g>
<clipPath id="cc6"><path d="M119.90,267.50 C122.07,265.23 125.40,265.70 129.00,265.80 C132.60,265.90 138.57,266.50 141.50,268.10 C144.43,269.70 145.65,272.85 146.60,275.40 C147.55,277.95 148.05,280.55 147.20,283.40 C146.35,286.25 144.35,289.85 141.50,292.50 C138.65,295.15 133.50,298.73 130.10,299.30 C126.70,299.87 123.27,297.80 121.10,295.90 C118.93,294.00 117.95,290.65 117.10,287.90 C116.25,285.15 115.53,282.80 116.00,279.40 C116.47,276.00 117.73,269.77 119.90,267.50 Z"/></clipPath><g filter="url(#soft)"><g clip-path="url(#cc6)"><rect x="103.2" y="254.4" width="58" height="58" fill="#160604"/><rect x="103.2" y="254.4" width="58" height="58" fill="#3a0808" filter="url(#speck)" opacity="0.5"/><path d="M117.20,262.40 C122.20,260.23 140.20,261.23 145.20,262.40 C150.20,263.57 148.87,268.23 147.20,269.40 C145.53,270.57 139.20,268.90 135.20,269.40 C131.20,269.90 126.53,271.40 123.20,272.40 C119.87,273.40 116.20,277.07 115.20,275.40 C114.20,273.73 112.20,264.57 117.20,262.40 Z" fill="#dc1616" filter="url(#blur1)" opacity="1"/><path d="M119.90,267.50 C122.07,265.23 125.40,265.70 129.00,265.80 C132.60,265.90 138.57,266.50 141.50,268.10 C144.43,269.70 145.65,272.85 146.60,275.40 C147.55,277.95 148.05,280.55 147.20,283.40 C146.35,286.25 144.35,289.85 141.50,292.50 C138.65,295.15 133.50,298.73 130.10,299.30 C126.70,299.87 123.27,297.80 121.10,295.90 C118.93,294.00 117.95,290.65 117.10,287.90 C116.25,285.15 115.53,282.80 116.00,279.40 C116.47,276.00 117.73,269.77 119.90,267.50 Z" fill="none" stroke="#a01010" stroke-width="1.1" filter="url(#blur1)"/></g></g>
<clipPath id="cc7"><path d="M182.10,267.50 C184.27,265.23 187.60,265.70 191.20,265.80 C194.80,265.90 200.77,266.50 203.70,268.10 C206.63,269.70 207.85,272.85 208.80,275.40 C209.75,277.95 210.25,280.55 209.40,283.40 C208.55,286.25 206.55,289.85 203.70,292.50 C200.85,295.15 195.70,298.73 192.30,299.30 C188.90,299.87 185.47,297.80 183.30,295.90 C181.13,294.00 180.15,290.65 179.30,287.90 C178.45,285.15 177.73,282.80 178.20,279.40 C178.67,276.00 179.93,269.77 182.10,267.50 Z"/></clipPath><g filter="url(#soft)"><g clip-path="url(#cc7)"><rect x="165.4" y="254.4" width="58" height="58" fill="#100e2e"/><rect x="165.4" y="254.4" width="58" height="58" fill="#3a30a0" filter="url(#speck)" opacity="0.75"/><path d="M179.40,262.40 C183.73,261.07 200.73,261.40 205.40,262.40 C210.07,263.40 209.07,267.43 207.40,268.40 C205.73,269.37 199.07,268.03 195.40,268.20 C191.73,268.37 188.07,269.03 185.40,269.40 C182.73,269.77 180.40,271.57 179.40,270.40 C178.40,269.23 175.07,263.73 179.40,262.40 Z" fill="#5a38b0" filter="url(#blur1)" opacity="0.5"/><path d="M182.10,267.50 C184.27,265.23 187.60,265.70 191.20,265.80 C194.80,265.90 200.77,266.50 203.70,268.10 C206.63,269.70 207.85,272.85 208.80,275.40 C209.75,277.95 210.25,280.55 209.40,283.40 C208.55,286.25 206.55,289.85 203.70,292.50 C200.85,295.15 195.70,298.73 192.30,299.30 C188.90,299.87 185.47,297.80 183.30,295.90 C181.13,294.00 180.15,290.65 179.30,287.90 C178.45,285.15 177.73,282.80 178.20,279.40 C178.67,276.00 179.93,269.77 182.10,267.50 Z" fill="none" stroke="#3828a0" stroke-width="0.8" filter="url(#blur1)"/></g></g>
<clipPath id="cc8"><path d="M243.00,267.50 C245.17,265.23 248.50,265.70 252.10,265.80 C255.70,265.90 261.67,266.50 264.60,268.10 C267.53,269.70 268.75,272.85 269.70,275.40 C270.65,277.95 271.15,280.55 270.30,283.40 C269.45,286.25 267.45,289.85 264.60,292.50 C261.75,295.15 256.60,298.73 253.20,299.30 C249.80,299.87 246.37,297.80 244.20,295.90 C242.03,294.00 241.05,290.65 240.20,287.90 C239.35,285.15 238.63,282.80 239.10,279.40 C239.57,276.00 240.83,269.77 243.00,267.50 Z"/></clipPath><g filter="url(#soft)"><g clip-path="url(#cc8)"><rect x="226.3" y="254.4" width="58" height="58" fill="#2c2e9c"/><rect x="226.3" y="254.4" width="58" height="58" fill="#4848c0" filter="url(#speck)" opacity="0.5"/><path d="M240.30,262.40 C244.63,261.07 261.63,261.40 266.30,262.40 C270.97,263.40 269.97,267.43 268.30,268.40 C266.63,269.37 259.97,268.03 256.30,268.20 C252.63,268.37 248.97,269.03 246.30,269.40 C243.63,269.77 241.30,271.57 240.30,270.40 C239.30,269.23 235.97,263.73 240.30,262.40 Z" fill="#c04cb8" filter="url(#blur1)" opacity="0.9"/><ellipse cx="253.30" cy="267.90" rx="6" ry="1.6" fill="#f8c8f0" filter="url(#blur1)" opacity="0.8" transform="rotate(0 253.30 267.90)"/><path d="M243.00,267.50 C245.17,265.23 248.50,265.70 252.10,265.80 C255.70,265.90 261.67,266.50 264.60,268.10 C267.53,269.70 268.75,272.85 269.70,275.40 C270.65,277.95 271.15,280.55 270.30,283.40 C269.45,286.25 267.45,289.85 264.60,292.50 C261.75,295.15 256.60,298.73 253.20,299.30 C249.80,299.87 246.37,297.80 244.20,295.90 C242.03,294.00 241.05,290.65 240.20,287.90 C239.35,285.15 238.63,282.80 239.10,279.40 C239.57,276.00 240.83,269.77 243.00,267.50 Z" fill="none" stroke="#c02080" stroke-width="1.2" filter="url(#blur1)"/></g></g>
<clipPath id="cc9"><path d="M51.60,336.20 C52.60,333.28 53.85,331.23 56.10,329.70 C58.35,328.17 61.93,327.33 65.10,327.00 C68.27,326.67 72.10,326.83 75.10,327.70 C78.10,328.57 81.17,330.12 83.10,332.20 C85.03,334.28 86.17,337.53 86.70,340.20 C87.23,342.87 87.07,345.62 86.30,348.20 C85.53,350.78 84.30,353.67 82.10,355.70 C79.90,357.73 76.43,359.65 73.10,360.40 C69.77,361.15 65.27,361.07 62.10,360.20 C58.93,359.33 56.10,357.37 54.10,355.20 C52.10,353.03 50.52,350.37 50.10,347.20 C49.68,344.03 50.60,339.12 51.60,336.20 Z"/></clipPath><g filter="url(#soft)"><g clip-path="url(#cc9)"><rect x="41.1" y="316.2" width="58" height="58" fill="#121610"/><rect x="41.1" y="316.2" width="58" height="58" fill="#1c2a14" filter="url(#speck)" opacity="0.4"/></g></g>
<clipPath id="cc10"><path d="M113.70,336.20 C114.70,333.28 115.95,331.23 118.20,329.70 C120.45,328.17 124.03,327.33 127.20,327.00 C130.37,326.67 134.20,326.83 137.20,327.70 C140.20,328.57 143.27,330.12 145.20,332.20 C147.13,334.28 148.27,337.53 148.80,340.20 C149.33,342.87 149.17,345.62 148.40,348.20 C147.63,350.78 146.40,353.67 144.20,355.70 C142.00,357.73 138.53,359.65 135.20,360.40 C131.87,361.15 127.37,361.07 124.20,360.20 C121.03,359.33 118.20,357.37 116.20,355.20 C114.20,353.03 112.62,350.37 112.20,347.20 C111.78,344.03 112.70,339.12 113.70,336.20 Z"/></clipPath><g filter="url(#soft)"><g clip-path="url(#cc10)"><rect x="103.2" y="316.2" width="58" height="58" fill="#140806"/><rect x="103.2" y="316.2" width="58" height="58" fill="#3a0a08" filter="url(#speck)" opacity="0.6"/><path d="M111.20,338.20 C111.70,335.70 113.87,334.03 115.20,334.20 C116.53,334.37 118.28,337.20 119.20,339.20 C120.12,341.20 120.62,343.87 120.70,346.20 C120.78,348.53 120.45,351.70 119.70,353.20 C118.95,354.70 117.45,355.87 116.20,355.20 C114.95,354.53 113.03,352.03 112.20,349.20 C111.37,346.37 110.70,340.70 111.20,338.20 Z" fill="#c41020" filter="url(#blur1)" opacity="0.7"/><path d="M113.70,336.20 C114.70,333.28 115.95,331.23 118.20,329.70 C120.45,328.17 124.03,327.33 127.20,327.00 C130.37,326.67 134.20,326.83 137.20,327.70 C140.20,328.57 143.27,330.12 145.20,332.20 C147.13,334.28 148.27,337.53 148.80,340.20 C149.33,342.87 149.17,345.62 148.40,348.20 C147.63,350.78 146.40,353.67 144.20,355.70 C142.00,357.73 138.53,359.65 135.20,360.40 C131.87,361.15 127.37,361.07 124.20,360.20 C121.03,359.33 118.20,357.37 116.20,355.20 C114.20,353.03 112.62,350.37 112.20,347.20 C111.78,344.03 112.70,339.12 113.70,336.20 Z" fill="none" stroke="#2a0606" stroke-width="1.0" filter="url(#blur1)"/></g></g>
<clipPath id="cc11"><path d="M175.90,336.20 C176.90,333.28 178.15,331.23 180.40,329.70 C182.65,328.17 186.23,327.33 189.40,327.00 C192.57,326.67 196.40,326.83 199.40,327.70 C202.40,328.57 205.47,330.12 207.40,332.20 C209.33,334.28 210.47,337.53 211.00,340.20 C211.53,342.87 211.37,345.62 210.60,348.20 C209.83,350.78 208.60,353.67 206.40,355.70 C204.20,357.73 200.73,359.65 197.40,360.40 C194.07,361.15 189.57,361.07 186.40,360.20 C183.23,359.33 180.40,357.37 178.40,355.20 C176.40,353.03 174.82,350.37 174.40,347.20 C173.98,344.03 174.90,339.12 175.90,336.20 Z"/></clipPath><g filter="url(#soft)"><g clip-path="url(#cc11)"><rect x="165.4" y="316.2" width="58" height="58" fill="#121032"/><rect x="165.4" y="316.2" width="58" height="58" fill="#302890" filter="url(#speck)" opacity="0.8"/><path d="M173.40,338.20 C173.90,335.70 176.07,334.03 177.40,334.20 C178.73,334.37 180.48,337.20 181.40,339.20 C182.32,341.20 182.82,343.87 182.90,346.20 C182.98,348.53 182.65,351.70 181.90,353.20 C181.15,354.70 179.65,355.87 178.40,355.20 C177.15,354.53 175.23,352.03 174.40,349.20 C173.57,346.37 172.90,340.70 173.40,338.20 Z" fill="#4a34a8" filter="url(#blur1)" opacity="0.5"/></g></g>
<clipPath id="cc12"><path d="M236.80,336.20 C237.80,333.28 239.05,331.23 241.30,329.70 C243.55,328.17 247.13,327.33 250.30,327.00 C253.47,326.67 257.30,326.83 260.30,327.70 C263.30,328.57 266.37,330.12 268.30,332.20 C270.23,334.28 271.37,337.53 271.90,340.20 C272.43,342.87 272.27,345.62 271.50,348.20 C270.73,350.78 269.50,353.67 267.30,355.70 C265.10,357.73 261.63,359.65 258.30,360.40 C254.97,361.15 250.47,361.07 247.30,360.20 C244.13,359.33 241.30,357.37 239.30,355.20 C237.30,353.03 235.72,350.37 235.30,347.20 C234.88,344.03 235.80,339.12 236.80,336.20 Z"/></clipPath><g filter="url(#soft)"><g clip-path="url(#cc12)"><rect x="226.3" y="316.2" width="58" height="58" fill="#181a5c"/><rect x="226.3" y="316.2" width="58" height="58" fill="#3434a8" filter="url(#speck)" opacity="0.7"/><path d="M234.30,338.20 C234.80,335.70 236.97,334.03 238.30,334.20 C239.63,334.37 241.38,337.20 242.30,339.20 C243.22,341.20 243.72,343.87 243.80,346.20 C243.88,348.53 243.55,351.70 242.80,353.20 C242.05,354.70 240.55,355.87 239.30,355.20 C238.05,354.53 236.13,352.03 235.30,349.20 C234.47,346.37 233.80,340.70 234.30,338.20 Z" fill="#b02888" filter="url(#blur1)" opacity="0.75"/><path d="M236.80,336.20 C237.80,333.28 239.05,331.23 241.30,329.70 C243.55,328.17 247.13,327.33 250.30,327.00 C253.47,326.67 257.30,326.83 260.30,327.70 C263.30,328.57 266.37,330.12 268.30,332.20 C270.23,334.28 271.37,337.53 271.90,340.20 C272.43,342.87 272.27,345.62 271.50,348.20 C270.73,350.78 269.50,353.67 267.30,355.70 C265.10,357.73 261.63,359.65 258.30,360.40 C254.97,361.15 250.47,361.07 247.30,360.20 C244.13,359.33 241.30,357.37 239.30,355.20 C237.30,353.03 235.72,350.37 235.30,347.20 C234.88,344.03 235.80,339.12 236.80,336.20 Z" fill="none" stroke="#802060" stroke-width="0.8" filter="url(#blur1)"/></g></g>
<text x="300.6" y="176.8" font-size="11.8" font-weight="bold" fill="#000" stroke="#000" stroke-width="0.35">E</text>
<line x1="344.50" y1="199.60" x2="344.50" y2="281.30" stroke="#231f20" stroke-width="1" />
<line x1="344.00" y1="280.90" x2="398.80" y2="280.90" stroke="#231f20" stroke-width="1" />
<line x1="341.50" y1="280.90" x2="344.50" y2="280.90" stroke="#231f20" stroke-width="0.95" />
<text x="339.40" y="283.30" font-size="6.8" fill="#231f20" stroke="#231f20" stroke-width="0.14" textLength="3.72" lengthAdjust="spacingAndGlyphs" text-anchor="end" >0</text>
<line x1="341.50" y1="267.76" x2="344.50" y2="267.76" stroke="#231f20" stroke-width="0.95" />
<text x="339.40" y="270.16" font-size="6.8" fill="#231f20" stroke="#231f20" stroke-width="0.14" textLength="11.16" lengthAdjust="spacingAndGlyphs" text-anchor="end" >500</text>
<line x1="341.50" y1="254.63" x2="344.50" y2="254.63" stroke="#231f20" stroke-width="0.95" />
<text x="339.40" y="257.03" font-size="6.8" fill="#231f20" stroke="#231f20" stroke-width="0.14" textLength="14.88" lengthAdjust="spacingAndGlyphs" text-anchor="end" >1000</text>
<line x1="341.50" y1="241.49" x2="344.50" y2="241.49" stroke="#231f20" stroke-width="0.95" />
<text x="339.40" y="243.89" font-size="6.8" fill="#231f20" stroke="#231f20" stroke-width="0.14" textLength="14.88" lengthAdjust="spacingAndGlyphs" text-anchor="end" >1500</text>
<line x1="341.50" y1="228.36" x2="344.50" y2="228.36" stroke="#231f20" stroke-width="0.95" />
<text x="339.40" y="230.76" font-size="6.8" fill="#231f20" stroke="#231f20" stroke-width="0.14" textLength="14.88" lengthAdjust="spacingAndGlyphs" text-anchor="end" >2000</text>
<line x1="341.50" y1="215.22" x2="344.50" y2="215.22" stroke="#231f20" stroke-width="0.95" />
<text x="339.40" y="217.62" font-size="6.8" fill="#231f20" stroke="#231f20" stroke-width="0.14" textLength="14.88" lengthAdjust="spacingAndGlyphs" text-anchor="end" >2500</text>
<line x1="341.50" y1="202.09" x2="344.50" y2="202.09" stroke="#231f20" stroke-width="0.95" />
<text x="339.40" y="204.49" font-size="6.8" fill="#231f20" stroke="#231f20" stroke-width="0.14" textLength="14.88" lengthAdjust="spacingAndGlyphs" text-anchor="end" >3000</text>
<rect x="350.40" y="245.44" width="10.40" height="35.46" fill="#e8b8c4" />
<rect x="366.00" y="245.96" width="11.00" height="34.94" fill="#dccfe2" />
<rect x="382.20" y="269.08" width="11.00" height="11.82" fill="#f2b8da" />
<circle cx="357.73" cy="256.97" r="1.25" fill="#b0102e" opacity="0.85"/>
<circle cx="358.79" cy="256.70" r="1.25" fill="#b0102e" opacity="0.85"/>
<circle cx="352.21" cy="247.99" r="1.25" fill="#b0102e" opacity="0.85"/>
<circle cx="355.35" cy="262.51" r="1.25" fill="#b0102e" opacity="0.85"/>
<circle cx="358.49" cy="234.99" r="1.25" fill="#b0102e" opacity="0.85"/>
<circle cx="352.82" cy="251.12" r="1.25" fill="#b0102e" opacity="0.85"/>
<circle cx="355.92" cy="253.15" r="1.25" fill="#b0102e" opacity="0.85"/>
<circle cx="356.13" cy="245.49" r="1.25" fill="#b0102e" opacity="0.85"/>
<circle cx="354.01" cy="240.71" r="1.25" fill="#b0102e" opacity="0.85"/>
<circle cx="358.60" cy="246.25" r="1.25" fill="#b0102e" opacity="0.85"/>
<circle cx="357.74" cy="246.24" r="1.25" fill="#b0102e" opacity="0.85"/>
<circle cx="353.00" cy="251.84" r="1.25" fill="#b0102e" opacity="0.85"/>
<circle cx="352.01" cy="250.09" r="1.25" fill="#b0102e" opacity="0.85"/>
<circle cx="358.27" cy="249.78" r="1.25" fill="#b0102e" opacity="0.85"/>
<circle cx="359.07" cy="245.23" r="1.25" fill="#b0102e" opacity="0.85"/>
<circle cx="358.28" cy="240.90" r="1.25" fill="#b0102e" opacity="0.85"/>
<circle cx="355.88" cy="252.16" r="1.25" fill="#b0102e" opacity="0.85"/>
<circle cx="356.88" cy="225.30" r="1.25" fill="#b0102e" opacity="0.85"/>
<circle cx="356.97" cy="240.97" r="1.25" fill="#b0102e" opacity="0.85"/>
<circle cx="358.96" cy="226.95" r="1.25" fill="#b0102e" opacity="0.85"/>
<circle cx="354.60" cy="241.01" r="1.25" fill="#b0102e" opacity="0.85"/>
<circle cx="353.19" cy="251.27" r="1.25" fill="#b0102e" opacity="0.85"/>
<circle cx="354.17" cy="244.81" r="1.25" fill="#b0102e" opacity="0.85"/>
<circle cx="356.34" cy="244.23" r="1.25" fill="#b0102e" opacity="0.85"/>
<circle cx="354.43" cy="233.70" r="1.25" fill="#b0102e" opacity="0.85"/>
<circle cx="354.23" cy="246.47" r="1.25" fill="#b0102e" opacity="0.85"/>
<circle cx="354.27" cy="242.61" r="1.25" fill="#b0102e" opacity="0.85"/>
<circle cx="355.46" cy="255.77" r="1.25" fill="#b0102e" opacity="0.85"/>
<circle cx="359.02" cy="247.58" r="1.25" fill="#b0102e" opacity="0.85"/>
<circle cx="352.16" cy="249.60" r="1.25" fill="#b0102e" opacity="0.85"/>
<circle cx="352.13" cy="246.77" r="1.25" fill="#b0102e" opacity="0.85"/>
<circle cx="357.67" cy="262.51" r="1.25" fill="#b0102e" opacity="0.85"/>
<circle cx="354.80" cy="225.73" r="1.25" fill="#d04060" opacity="0.85"/>
<circle cx="356.07" cy="228.89" r="1.25" fill="#d04060" opacity="0.85"/>
<circle cx="352.65" cy="233.09" r="1.25" fill="#d04060" opacity="0.85"/>
<circle cx="352.88" cy="257.26" r="1.25" fill="#d04060" opacity="0.85"/>
<circle cx="353.69" cy="260.41" r="1.25" fill="#d04060" opacity="0.85"/>
<circle cx="373.34" cy="241.55" r="1.25" fill="#9a7ab0" opacity="0.85"/>
<circle cx="374.59" cy="247.58" r="1.25" fill="#9a7ab0" opacity="0.85"/>
<circle cx="370.45" cy="239.91" r="1.25" fill="#9a7ab0" opacity="0.85"/>
<circle cx="371.68" cy="248.63" r="1.25" fill="#9a7ab0" opacity="0.85"/>
<circle cx="373.29" cy="245.66" r="1.25" fill="#9a7ab0" opacity="0.85"/>
<circle cx="373.64" cy="249.70" r="1.25" fill="#9a7ab0" opacity="0.85"/>
<circle cx="374.71" cy="244.95" r="1.25" fill="#9a7ab0" opacity="0.85"/>
<circle cx="368.56" cy="247.77" r="1.25" fill="#9a7ab0" opacity="0.85"/>
<circle cx="374.51" cy="251.68" r="1.25" fill="#9a7ab0" opacity="0.85"/>
<circle cx="370.35" cy="237.72" r="1.25" fill="#9a7ab0" opacity="0.85"/>
<circle cx="370.15" cy="238.02" r="1.25" fill="#9a7ab0" opacity="0.85"/>
<circle cx="370.18" cy="250.46" r="1.25" fill="#9a7ab0" opacity="0.85"/>
<circle cx="368.97" cy="244.92" r="1.25" fill="#9a7ab0" opacity="0.85"/>
<circle cx="372.86" cy="243.56" r="1.25" fill="#9a7ab0" opacity="0.85"/>
<circle cx="368.25" cy="241.86" r="1.25" fill="#9a7ab0" opacity="0.85"/>
<circle cx="375.00" cy="246.31" r="1.25" fill="#9a7ab0" opacity="0.85"/>
<circle cx="369.61" cy="253.56" r="1.25" fill="#9a7ab0" opacity="0.85"/>
<circle cx="372.18" cy="247.79" r="1.25" fill="#9a7ab0" opacity="0.85"/>
<circle cx="370.94" cy="242.48" r="1.25" fill="#9a7ab0" opacity="0.85"/>
<circle cx="368.30" cy="253.42" r="1.25" fill="#9a7ab0" opacity="0.85"/>
<circle cx="371.45" cy="244.58" r="1.25" fill="#9a7ab0" opacity="0.85"/>
<circle cx="373.94" cy="247.18" r="1.25" fill="#9a7ab0" opacity="0.85"/>
<circle cx="374.74" cy="238.09" r="1.25" fill="#9a7ab0" opacity="0.85"/>
<circle cx="372.44" cy="237.50" r="1.25" fill="#9a7ab0" opacity="0.85"/>
<circle cx="371.03" cy="245.40" r="1.25" fill="#9a7ab0" opacity="0.85"/>
<circle cx="368.97" cy="249.62" r="1.25" fill="#9a7ab0" opacity="0.85"/>
<circle cx="371.16" cy="242.78" r="1.25" fill="#9a7ab0" opacity="0.85"/>
<circle cx="375.09" cy="251.31" r="1.25" fill="#9a7ab0" opacity="0.85"/>
<circle cx="371.17" cy="234.19" r="1.25" fill="#9a7ab0" opacity="0.85"/>
<circle cx="371.41" cy="259.88" r="1.25" fill="#9a7ab0" opacity="0.85"/>
<circle cx="371.50" cy="226.26" r="1.25" fill="#6a3a88" opacity="0.85"/>
<circle cx="386.21" cy="269.69" r="1.25" fill="#e040a0" opacity="0.85"/>
<circle cx="387.07" cy="273.84" r="1.25" fill="#e040a0" opacity="0.85"/>
<circle cx="391.51" cy="266.60" r="1.25" fill="#e040a0" opacity="0.85"/>
<circle cx="391.29" cy="265.82" r="1.25" fill="#e040a0" opacity="0.85"/>
<circle cx="386.57" cy="272.53" r="1.25" fill="#e040a0" opacity="0.85"/>
<circle cx="384.68" cy="272.62" r="1.25" fill="#e040a0" opacity="0.85"/>
<circle cx="390.59" cy="270.10" r="1.25" fill="#e040a0" opacity="0.85"/>
<circle cx="386.75" cy="261.81" r="1.25" fill="#e040a0" opacity="0.85"/>
<circle cx="389.28" cy="267.45" r="1.25" fill="#e040a0" opacity="0.85"/>
<circle cx="389.05" cy="276.15" r="1.25" fill="#e040a0" opacity="0.85"/>
<circle cx="389.35" cy="268.84" r="1.25" fill="#e040a0" opacity="0.85"/>
<circle cx="386.13" cy="273.07" r="1.25" fill="#e040a0" opacity="0.85"/>
<circle cx="389.25" cy="276.25" r="1.25" fill="#e040a0" opacity="0.85"/>
<circle cx="386.23" cy="268.43" r="1.25" fill="#e040a0" opacity="0.85"/>
<circle cx="388.41" cy="263.34" r="1.25" fill="#e040a0" opacity="0.85"/>
<circle cx="384.09" cy="271.12" r="1.25" fill="#e040a0" opacity="0.85"/>
<circle cx="389.10" cy="272.13" r="1.25" fill="#e040a0" opacity="0.85"/>
<circle cx="387.52" cy="270.01" r="1.25" fill="#e040a0" opacity="0.85"/>
<circle cx="390.06" cy="266.61" r="1.25" fill="#e040a0" opacity="0.85"/>
<circle cx="386.64" cy="274.62" r="1.25" fill="#e040a0" opacity="0.85"/>
<circle cx="390.29" cy="273.33" r="1.25" fill="#e040a0" opacity="0.85"/>
<circle cx="386.66" cy="274.49" r="1.25" fill="#e040a0" opacity="0.85"/>
<circle cx="389.23" cy="264.40" r="1.25" fill="#e040a0" opacity="0.85"/>
<circle cx="391.42" cy="276.16" r="1.25" fill="#e040a0" opacity="0.85"/>
<circle cx="388.02" cy="264.19" r="1.25" fill="#e040a0" opacity="0.85"/>
<circle cx="385.26" cy="270.45" r="1.25" fill="#e040a0" opacity="0.85"/>
<circle cx="387.63" cy="263.96" r="1.25" fill="#e040a0" opacity="0.85"/>
<circle cx="389.25" cy="276.96" r="1.25" fill="#e040a0" opacity="0.85"/>
<circle cx="385.31" cy="270.37" r="1.25" fill="#e040a0" opacity="0.85"/>
<circle cx="389.93" cy="275.76" r="1.25" fill="#e040a0" opacity="0.85"/>
<circle cx="387.20" cy="274.51" r="1.25" fill="#e040a0" opacity="0.85"/>
<circle cx="388.74" cy="272.10" r="1.25" fill="#e040a0" opacity="0.85"/>
<circle cx="389.48" cy="268.15" r="1.25" fill="#e040a0" opacity="0.85"/>
<circle cx="384.21" cy="274.99" r="1.25" fill="#e040a0" opacity="0.85"/>
<line x1="355.60" y1="234.93" x2="355.60" y2="245.44" stroke="#000" stroke-width="0.7" />
<line x1="352.80" y1="234.93" x2="358.40" y2="234.93" stroke="#000" stroke-width="0.95" />
<line x1="355.60" y1="280.90" x2="355.60" y2="283.20" stroke="#231f20" stroke-width="0.95" />
<line x1="371.30" y1="280.90" x2="371.30" y2="283.20" stroke="#231f20" stroke-width="0.95" />
<line x1="387.80" y1="280.90" x2="387.80" y2="283.20" stroke="#231f20" stroke-width="0.95" />
<line x1="355.90" y1="214.50" x2="388.90" y2="214.50" stroke="#231f20" stroke-width="0.9" />
<line x1="372.90" y1="222.30" x2="388.90" y2="222.30" stroke="#231f20" stroke-width="0.9" />
<text x="372.30" y="214.95" font-size="7.2" fill="#231f20" stroke="#231f20" stroke-width="0.3" text-anchor="middle" >***</text>
<text x="380.90" y="222.65" font-size="7.2" fill="#231f20" stroke="#231f20" stroke-width="0.3" text-anchor="middle" >***</text>
<text transform="translate(318.20 240.20) rotate(-90)" font-size="7.6" fill="#231f20" stroke="#231f20" stroke-width="0.14" textLength="50.50" lengthAdjust="spacingAndGlyphs" text-anchor="middle" >Cdc42 MFI (a.u.)</text>
<text transform="translate(359.50 291.80) rotate(-48)" font-size="6.6" fill="#231f20" stroke="#231f20" stroke-width="0.14" text-anchor="end" >Wt</text>
<text transform="translate(375.00 289.80) rotate(-48)" font-size="6.6" fill="#231f20" stroke="#231f20" stroke-width="0.14" textLength="38.00" lengthAdjust="spacingAndGlyphs" text-anchor="end" >Taz<tspan font-size="3.6" dy="-2.3">Δ/Δ</tspan><tspan dy="2.3">&#8203;</tspan>;Yap<tspan font-size="3.6" dy="-2.3">Δ/Δ</tspan><tspan dy="2.3">&#8203;</tspan></text>
<text transform="translate(389.80 290.00) rotate(-48)" font-size="6.6" fill="#231f20" stroke="#231f20" stroke-width="0.14" textLength="35.00" lengthAdjust="spacingAndGlyphs" text-anchor="end" >Scribble<tspan font-size="3.6" dy="-2.3">Δ/Δ</tspan><tspan dy="2.3">&#8203;</tspan>;</text>
<text transform="translate(396.50 295.00) rotate(-48)" font-size="6.6" fill="#231f20" stroke="#231f20" stroke-width="0.14" textLength="37.50" lengthAdjust="spacingAndGlyphs" text-anchor="end" >Taz<tspan font-size="3.6" dy="-2.3">Δ/Δ</tspan><tspan dy="2.3">&#8203;</tspan>;Yap<tspan font-size="3.6" dy="-2.3">Δ/Δ</tspan><tspan dy="2.3">&#8203;</tspan></text>
<text x="414.9" y="177.1" font-size="11.8" font-weight="bold" fill="#000" stroke="#000" stroke-width="0.35">F</text>
<line x1="458.30" y1="199.80" x2="458.30" y2="281.70" stroke="#231f20" stroke-width="1" />
<line x1="457.80" y1="281.30" x2="512.30" y2="281.30" stroke="#231f20" stroke-width="1" />
<line x1="455.30" y1="281.30" x2="458.30" y2="281.30" stroke="#231f20" stroke-width="0.95" />
<text x="452.40" y="283.70" font-size="6.8" fill="#231f20" stroke="#231f20" stroke-width="0.14" textLength="3.60" lengthAdjust="spacingAndGlyphs" text-anchor="end" >0</text>
<line x1="455.30" y1="268.09" x2="458.30" y2="268.09" stroke="#231f20" stroke-width="0.95" />
<text x="452.40" y="270.49" font-size="6.8" fill="#231f20" stroke="#231f20" stroke-width="0.14" textLength="10.80" lengthAdjust="spacingAndGlyphs" text-anchor="end" >500</text>
<line x1="455.30" y1="254.87" x2="458.30" y2="254.87" stroke="#231f20" stroke-width="0.95" />
<text x="452.40" y="257.27" font-size="6.8" fill="#231f20" stroke="#231f20" stroke-width="0.14" textLength="14.40" lengthAdjust="spacingAndGlyphs" text-anchor="end" >1000</text>
<line x1="455.30" y1="241.66" x2="458.30" y2="241.66" stroke="#231f20" stroke-width="0.95" />
<text x="452.40" y="244.06" font-size="6.8" fill="#231f20" stroke="#231f20" stroke-width="0.14" textLength="14.40" lengthAdjust="spacingAndGlyphs" text-anchor="end" >1500</text>
<line x1="455.30" y1="228.44" x2="458.30" y2="228.44" stroke="#231f20" stroke-width="0.95" />
<text x="452.40" y="230.84" font-size="6.8" fill="#231f20" stroke="#231f20" stroke-width="0.14" textLength="14.40" lengthAdjust="spacingAndGlyphs" text-anchor="end" >2000</text>
<line x1="455.30" y1="215.23" x2="458.30" y2="215.23" stroke="#231f20" stroke-width="0.95" />
<text x="452.40" y="217.63" font-size="6.8" fill="#231f20" stroke="#231f20" stroke-width="0.14" textLength="14.40" lengthAdjust="spacingAndGlyphs" text-anchor="end" >2500</text>
<line x1="455.30" y1="202.01" x2="458.30" y2="202.01" stroke="#231f20" stroke-width="0.95" />
<text x="452.40" y="204.41" font-size="6.8" fill="#231f20" stroke="#231f20" stroke-width="0.14" textLength="14.40" lengthAdjust="spacingAndGlyphs" text-anchor="end" >3000</text>
<rect x="464.20" y="241.66" width="10.40" height="39.64" fill="#e8b8c4" />
<rect x="480.40" y="250.91" width="10.40" height="30.39" fill="#dccfe2" />
<rect x="496.30" y="268.09" width="11.10" height="13.21" fill="#f2b8da" />
<circle cx="470.55" cy="244.21" r="1.25" fill="#b0102e" opacity="0.85"/>
<circle cx="466.15" cy="238.13" r="1.25" fill="#b0102e" opacity="0.85"/>
<circle cx="466.04" cy="249.56" r="1.25" fill="#b0102e" opacity="0.85"/>
<circle cx="469.46" cy="243.87" r="1.25" fill="#b0102e" opacity="0.85"/>
<circle cx="466.13" cy="233.96" r="1.25" fill="#b0102e" opacity="0.85"/>
<circle cx="466.29" cy="240.21" r="1.25" fill="#b0102e" opacity="0.85"/>
<circle cx="466.54" cy="255.39" r="1.25" fill="#b0102e" opacity="0.85"/>
<circle cx="467.30" cy="235.40" r="1.25" fill="#b0102e" opacity="0.85"/>
<circle cx="469.99" cy="255.59" r="1.25" fill="#b0102e" opacity="0.85"/>
<circle cx="468.61" cy="256.01" r="1.25" fill="#b0102e" opacity="0.85"/>
<circle cx="472.12" cy="239.76" r="1.25" fill="#b0102e" opacity="0.85"/>
<circle cx="467.80" cy="242.55" r="1.25" fill="#b0102e" opacity="0.85"/>
<circle cx="467.94" cy="239.74" r="1.25" fill="#b0102e" opacity="0.85"/>
<circle cx="471.80" cy="239.06" r="1.25" fill="#b0102e" opacity="0.85"/>
<circle cx="470.46" cy="237.77" r="1.25" fill="#b0102e" opacity="0.85"/>
<circle cx="468.43" cy="232.69" r="1.25" fill="#b0102e" opacity="0.85"/>
<circle cx="466.05" cy="244.91" r="1.25" fill="#b0102e" opacity="0.85"/>
<circle cx="467.17" cy="243.03" r="1.25" fill="#b0102e" opacity="0.85"/>
<circle cx="467.99" cy="245.73" r="1.25" fill="#b0102e" opacity="0.85"/>
<circle cx="470.05" cy="249.77" r="1.25" fill="#b0102e" opacity="0.85"/>
<circle cx="471.64" cy="248.59" r="1.25" fill="#b0102e" opacity="0.85"/>
<circle cx="470.91" cy="240.24" r="1.25" fill="#b0102e" opacity="0.85"/>
<circle cx="469.59" cy="241.80" r="1.25" fill="#b0102e" opacity="0.85"/>
<circle cx="472.25" cy="231.83" r="1.25" fill="#b0102e" opacity="0.85"/>
<circle cx="473.05" cy="243.03" r="1.25" fill="#b0102e" opacity="0.85"/>
<circle cx="466.50" cy="248.66" r="1.25" fill="#b0102e" opacity="0.85"/>
<circle cx="466.76" cy="253.80" r="1.25" fill="#b0102e" opacity="0.85"/>
<circle cx="469.32" cy="235.62" r="1.25" fill="#b0102e" opacity="0.85"/>
<circle cx="471.41" cy="230.76" r="1.25" fill="#b0102e" opacity="0.85"/>
<circle cx="469.95" cy="239.31" r="1.25" fill="#b0102e" opacity="0.85"/>
<circle cx="470.88" cy="237.30" r="1.25" fill="#b0102e" opacity="0.85"/>
<circle cx="470.12" cy="247.03" r="1.25" fill="#b0102e" opacity="0.85"/>
<circle cx="471.98" cy="249.86" r="1.25" fill="#b0102e" opacity="0.85"/>
<circle cx="472.78" cy="246.39" r="1.25" fill="#b0102e" opacity="0.85"/>
<circle cx="466.06" cy="253.74" r="1.25" fill="#b0102e" opacity="0.85"/>
<circle cx="470.93" cy="240.29" r="1.25" fill="#b0102e" opacity="0.85"/>
<circle cx="471.85" cy="257.25" r="1.25" fill="#b0102e" opacity="0.85"/>
<circle cx="467.76" cy="262.15" r="1.25" fill="#b0102e" opacity="0.85"/>
<circle cx="465.77" cy="251.06" r="1.25" fill="#b0102e" opacity="0.85"/>
<circle cx="469.11" cy="234.43" r="1.25" fill="#b0102e" opacity="0.85"/>
<circle cx="467.74" cy="200.69" r="1.25" fill="#d04060" opacity="0.85"/>
<circle cx="467.49" cy="220.51" r="1.25" fill="#d04060" opacity="0.85"/>
<circle cx="467.19" cy="224.48" r="1.25" fill="#d04060" opacity="0.85"/>
<circle cx="470.74" cy="229.76" r="1.25" fill="#d04060" opacity="0.85"/>
<circle cx="484.77" cy="248.27" r="1.25" fill="#5e2a80" opacity="0.85"/>
<circle cx="488.42" cy="248.08" r="1.25" fill="#5e2a80" opacity="0.85"/>
<circle cx="485.98" cy="245.39" r="1.25" fill="#5e2a80" opacity="0.85"/>
<circle cx="488.51" cy="248.20" r="1.25" fill="#5e2a80" opacity="0.85"/>
<circle cx="483.92" cy="246.13" r="1.25" fill="#5e2a80" opacity="0.85"/>
<circle cx="484.96" cy="263.67" r="1.25" fill="#5e2a80" opacity="0.85"/>
<circle cx="489.08" cy="260.36" r="1.25" fill="#5e2a80" opacity="0.85"/>
<circle cx="482.95" cy="241.06" r="1.25" fill="#5e2a80" opacity="0.85"/>
<circle cx="483.57" cy="249.55" r="1.25" fill="#5e2a80" opacity="0.85"/>
<circle cx="485.49" cy="247.40" r="1.25" fill="#5e2a80" opacity="0.85"/>
<circle cx="481.83" cy="256.07" r="1.25" fill="#5e2a80" opacity="0.85"/>
<circle cx="484.98" cy="254.44" r="1.25" fill="#5e2a80" opacity="0.85"/>
<circle cx="489.04" cy="257.52" r="1.25" fill="#5e2a80" opacity="0.85"/>
<circle cx="487.05" cy="245.44" r="1.25" fill="#5e2a80" opacity="0.85"/>
<circle cx="486.94" cy="260.82" r="1.25" fill="#5e2a80" opacity="0.85"/>
<circle cx="482.21" cy="252.59" r="1.25" fill="#5e2a80" opacity="0.85"/>
<circle cx="488.45" cy="242.42" r="1.25" fill="#5e2a80" opacity="0.85"/>
<circle cx="487.86" cy="258.48" r="1.25" fill="#5e2a80" opacity="0.85"/>
<circle cx="482.59" cy="256.90" r="1.25" fill="#5e2a80" opacity="0.85"/>
<circle cx="486.62" cy="247.53" r="1.25" fill="#5e2a80" opacity="0.85"/>
<circle cx="483.39" cy="249.42" r="1.25" fill="#5e2a80" opacity="0.85"/>
<circle cx="483.03" cy="250.76" r="1.25" fill="#5e2a80" opacity="0.85"/>
<circle cx="481.80" cy="252.86" r="1.25" fill="#5e2a80" opacity="0.85"/>
<circle cx="482.95" cy="249.87" r="1.25" fill="#5e2a80" opacity="0.85"/>
<circle cx="481.99" cy="246.65" r="1.25" fill="#5e2a80" opacity="0.85"/>
<circle cx="488.44" cy="247.96" r="1.25" fill="#5e2a80" opacity="0.85"/>
<circle cx="483.72" cy="254.52" r="1.25" fill="#5e2a80" opacity="0.85"/>
<circle cx="484.44" cy="254.16" r="1.25" fill="#5e2a80" opacity="0.85"/>
<circle cx="488.25" cy="253.92" r="1.25" fill="#5e2a80" opacity="0.85"/>
<circle cx="489.35" cy="249.15" r="1.25" fill="#5e2a80" opacity="0.85"/>
<circle cx="482.45" cy="259.12" r="1.25" fill="#5e2a80" opacity="0.85"/>
<circle cx="482.58" cy="250.09" r="1.25" fill="#5e2a80" opacity="0.85"/>
<circle cx="488.10" cy="254.55" r="1.25" fill="#5e2a80" opacity="0.85"/>
<circle cx="483.03" cy="247.37" r="1.25" fill="#5e2a80" opacity="0.85"/>
<circle cx="485.81" cy="240.33" r="1.25" fill="#5e2a80" opacity="0.85"/>
<circle cx="482.91" cy="249.35" r="1.25" fill="#5e2a80" opacity="0.85"/>
<circle cx="485.60" cy="231.61" r="1.25" fill="#4a1a6a" opacity="0.85"/>
<circle cx="502.14" cy="267.16" r="1.25" fill="#e02898" opacity="0.85"/>
<circle cx="505.92" cy="266.68" r="1.25" fill="#e02898" opacity="0.85"/>
<circle cx="499.89" cy="263.57" r="1.25" fill="#e02898" opacity="0.85"/>
<circle cx="500.78" cy="269.90" r="1.25" fill="#e02898" opacity="0.85"/>
<circle cx="502.17" cy="264.01" r="1.25" fill="#e02898" opacity="0.85"/>
<circle cx="504.24" cy="262.16" r="1.25" fill="#e02898" opacity="0.85"/>
<circle cx="504.52" cy="267.49" r="1.25" fill="#e02898" opacity="0.85"/>
<circle cx="505.97" cy="264.69" r="1.25" fill="#e02898" opacity="0.85"/>
<circle cx="504.57" cy="263.33" r="1.25" fill="#e02898" opacity="0.85"/>
<circle cx="503.91" cy="270.71" r="1.25" fill="#e02898" opacity="0.85"/>
<circle cx="500.69" cy="265.99" r="1.25" fill="#e02898" opacity="0.85"/>
<circle cx="497.94" cy="263.03" r="1.25" fill="#e02898" opacity="0.85"/>
<circle cx="499.88" cy="264.18" r="1.25" fill="#e02898" opacity="0.85"/>
<circle cx="503.52" cy="266.09" r="1.25" fill="#e02898" opacity="0.85"/>
<circle cx="505.57" cy="263.45" r="1.25" fill="#e02898" opacity="0.85"/>
<circle cx="506.00" cy="267.35" r="1.25" fill="#e02898" opacity="0.85"/>
<circle cx="499.55" cy="263.84" r="1.25" fill="#e02898" opacity="0.85"/>
<circle cx="499.61" cy="267.27" r="1.25" fill="#e02898" opacity="0.85"/>
<circle cx="502.94" cy="265.85" r="1.25" fill="#e02898" opacity="0.85"/>
<circle cx="505.26" cy="264.64" r="1.25" fill="#e02898" opacity="0.85"/>
<circle cx="503.19" cy="264.71" r="1.25" fill="#e02898" opacity="0.85"/>
<circle cx="504.42" cy="269.30" r="1.25" fill="#e02898" opacity="0.85"/>
<circle cx="505.34" cy="262.82" r="1.25" fill="#e02898" opacity="0.85"/>
<circle cx="504.27" cy="264.33" r="1.25" fill="#e02898" opacity="0.85"/>
<circle cx="499.20" cy="266.50" r="1.25" fill="#e02898" opacity="0.85"/>
<circle cx="504.33" cy="269.81" r="1.25" fill="#e02898" opacity="0.85"/>
<circle cx="505.86" cy="269.09" r="1.25" fill="#e02898" opacity="0.85"/>
<circle cx="501.03" cy="261.96" r="1.25" fill="#e02898" opacity="0.85"/>
<circle cx="503.79" cy="271.26" r="1.25" fill="#e02898" opacity="0.85"/>
<circle cx="499.13" cy="262.41" r="1.25" fill="#e02898" opacity="0.85"/>
<circle cx="505.30" cy="265.34" r="1.25" fill="#e02898" opacity="0.85"/>
<circle cx="504.47" cy="265.31" r="1.25" fill="#e02898" opacity="0.85"/>
<circle cx="505.93" cy="263.20" r="1.25" fill="#e02898" opacity="0.85"/>
<circle cx="503.22" cy="262.17" r="1.25" fill="#e02898" opacity="0.85"/>
<circle cx="498.80" cy="268.66" r="1.25" fill="#e02898" opacity="0.85"/>
<circle cx="497.82" cy="263.54" r="1.25" fill="#e02898" opacity="0.85"/>
<circle cx="502.12" cy="262.36" r="1.25" fill="#e02898" opacity="0.85"/>
<circle cx="505.54" cy="267.27" r="1.25" fill="#e02898" opacity="0.85"/>
<circle cx="504.64" cy="271.26" r="1.25" fill="#e02898" opacity="0.85"/>
<circle cx="499.47" cy="264.12" r="1.25" fill="#e02898" opacity="0.85"/>
<circle cx="499.72" cy="266.53" r="1.25" fill="#e02898" opacity="0.85"/>
<circle cx="502.63" cy="264.08" r="1.25" fill="#e02898" opacity="0.85"/>
<circle cx="498.80" cy="266.68" r="1.25" fill="#e02898" opacity="0.85"/>
<circle cx="505.34" cy="263.47" r="1.25" fill="#e02898" opacity="0.85"/>
<circle cx="502.60" cy="268.45" r="1.25" fill="#e02898" opacity="0.85"/>
<circle cx="503.52" cy="250.38" r="1.25" fill="#e060b0" opacity="0.85"/>
<circle cx="501.58" cy="252.76" r="1.25" fill="#e060b0" opacity="0.85"/>
<circle cx="503.57" cy="255.40" r="1.25" fill="#e060b0" opacity="0.85"/>
<line x1="469.40" y1="231.08" x2="469.40" y2="241.66" stroke="#000" stroke-width="0.7" />
<line x1="466.60" y1="231.08" x2="472.20" y2="231.08" stroke="#000" stroke-width="0.95" />
<line x1="469.40" y1="281.30" x2="469.40" y2="283.60" stroke="#231f20" stroke-width="0.95" />
<line x1="485.60" y1="281.30" x2="485.60" y2="283.60" stroke="#231f20" stroke-width="0.95" />
<line x1="501.90" y1="281.30" x2="501.90" y2="283.60" stroke="#231f20" stroke-width="0.95" />
<polyline points="468.70,194.30 468.70,188.10 500.70,188.10 500.70,220.20" stroke="#231f20" stroke-width="0.95" fill="none" />
<polyline points="468.70,198.10 486.40,198.10 486.40,220.20" stroke="#231f20" stroke-width="0.95" fill="none" />
<line x1="486.40" y1="228.20" x2="500.70" y2="228.20" stroke="#231f20" stroke-width="0.95" />
<text x="485.30" y="188.75" font-size="7.2" fill="#231f20" stroke="#231f20" stroke-width="0.3" text-anchor="middle" >***</text>
<text x="477.50" y="198.75" font-size="7.2" fill="#231f20" stroke="#231f20" stroke-width="0.3" text-anchor="middle" >***</text>
<text x="493.70" y="228.85" font-size="7.2" fill="#231f20" stroke="#231f20" stroke-width="0.3" text-anchor="middle" >***</text>
<text transform="translate(431.00 240.50) rotate(-90)" font-size="7.6" fill="#231f20" stroke="#231f20" stroke-width="0.14" textLength="64.50" lengthAdjust="spacingAndGlyphs" text-anchor="middle" >Cdc42-GTP MFI (a.u.)</text>
<text transform="translate(473.50 292.10) rotate(-48)" font-size="6.6" fill="#231f20" stroke="#231f20" stroke-width="0.14" text-anchor="end" >Wt</text>
<text transform="translate(489.10 290.10) rotate(-48)" font-size="6.6" fill="#231f20" stroke="#231f20" stroke-width="0.14" textLength="38.00" lengthAdjust="spacingAndGlyphs" text-anchor="end" >Taz<tspan font-size="3.6" dy="-2.3">Δ/Δ</tspan><tspan dy="2.3">&#8203;</tspan>;Yap<tspan font-size="3.6" dy="-2.3">Δ/Δ</tspan><tspan dy="2.3">&#8203;</tspan></text>
<text transform="translate(503.90 290.30) rotate(-48)" font-size="6.6" fill="#231f20" stroke="#231f20" stroke-width="0.14" textLength="35.00" lengthAdjust="spacingAndGlyphs" text-anchor="end" >Scribble<tspan font-size="3.6" dy="-2.3">Δ/Δ</tspan><tspan dy="2.3">&#8203;</tspan>;</text>
<text transform="translate(510.60 295.30) rotate(-48)" font-size="6.6" fill="#231f20" stroke="#231f20" stroke-width="0.14" textLength="37.50" lengthAdjust="spacingAndGlyphs" text-anchor="end" >Taz<tspan font-size="3.6" dy="-2.3">Δ/Δ</tspan><tspan dy="2.3">&#8203;</tspan>;Yap<tspan font-size="3.6" dy="-2.3">Δ/Δ</tspan><tspan dy="2.3">&#8203;</tspan></text>
<text x="7.3" y="403.5" font-size="11.8" font-weight="bold" fill="#000" stroke="#000" stroke-width="0.35">G</text>
<rect x="66.10" y="421.50" width="22.52" height="5.53" fill="#3c3016" shape-rendering="crispEdges"/>
<rect x="88.32" y="421.50" width="22.52" height="5.53" fill="#c8b828" shape-rendering="crispEdges"/>
<rect x="110.54" y="421.50" width="22.52" height="5.53" fill="#4a9ad0" shape-rendering="crispEdges"/>
<rect x="132.76" y="421.50" width="22.52" height="5.53" fill="#5aa8d8" shape-rendering="crispEdges"/>
<rect x="154.98" y="421.50" width="22.52" height="5.53" fill="#1e3a48" shape-rendering="crispEdges"/>
<rect x="177.20" y="421.50" width="22.52" height="5.53" fill="#5a4818" shape-rendering="crispEdges"/>
<text x="201.00" y="426.11" font-size="5.7" fill="#231f20" stroke="#231f20" stroke-width="0.12" >Cdc42ep5</text>
<rect x="66.10" y="426.73" width="22.52" height="5.53" fill="#c0b030" shape-rendering="crispEdges"/>
<rect x="88.32" y="426.73" width="22.52" height="5.53" fill="#807028" shape-rendering="crispEdges"/>
<rect x="110.54" y="426.73" width="22.52" height="5.53" fill="#2e5a70" shape-rendering="crispEdges"/>
<rect x="132.76" y="426.73" width="22.52" height="5.53" fill="#3a7898" shape-rendering="crispEdges"/>
<rect x="154.98" y="426.73" width="22.52" height="5.53" fill="#1a2a30" shape-rendering="crispEdges"/>
<rect x="177.20" y="426.73" width="22.52" height="5.53" fill="#2a1c14" shape-rendering="crispEdges"/>
<text x="201.00" y="431.34" font-size="5.7" fill="#231f20" stroke="#231f20" stroke-width="0.12" >Pard6a</text>
<rect x="66.10" y="431.95" width="22.52" height="5.53" fill="#a09028" shape-rendering="crispEdges"/>
<rect x="88.32" y="431.95" width="22.52" height="5.53" fill="#6a5820" shape-rendering="crispEdges"/>
<rect x="110.54" y="431.95" width="22.52" height="5.53" fill="#1a2a30" shape-rendering="crispEdges"/>
<rect x="132.76" y="431.95" width="22.52" height="5.53" fill="#2a5068" shape-rendering="crispEdges"/>
<rect x="154.98" y="431.95" width="22.52" height="5.53" fill="#2a1c14" shape-rendering="crispEdges"/>
<rect x="177.20" y="431.95" width="22.52" height="5.53" fill="#3a6888" shape-rendering="crispEdges"/>
<text x="201.00" y="436.57" font-size="5.7" fill="#231f20" stroke="#231f20" stroke-width="0.12" >Nxt1</text>
<rect x="66.10" y="437.18" width="22.52" height="5.53" fill="#3c3018" shape-rendering="crispEdges"/>
<rect x="88.32" y="437.18" width="22.52" height="5.53" fill="#1a2a30" shape-rendering="crispEdges"/>
<rect x="110.54" y="437.18" width="22.52" height="5.53" fill="#4a88b0" shape-rendering="crispEdges"/>
<rect x="132.76" y="437.18" width="22.52" height="5.53" fill="#3a7a9c" shape-rendering="crispEdges"/>
<rect x="154.98" y="437.18" width="22.52" height="5.53" fill="#7a6828" shape-rendering="crispEdges"/>
<rect x="177.20" y="437.18" width="22.52" height="5.53" fill="#2a1c14" shape-rendering="crispEdges"/>
<text x="201.00" y="441.79" font-size="5.7" fill="#231f20" stroke="#231f20" stroke-width="0.12" >Daam1</text>
<rect x="66.10" y="442.41" width="22.52" height="5.53" fill="#706020" shape-rendering="crispEdges"/>
<rect x="88.32" y="442.41" width="22.52" height="5.53" fill="#3a2a14" shape-rendering="crispEdges"/>
<rect x="110.54" y="442.41" width="22.52" height="5.53" fill="#4a88b0" shape-rendering="crispEdges"/>
<rect x="132.76" y="442.41" width="22.52" height="5.53" fill="#4a90c0" shape-rendering="crispEdges"/>
<rect x="154.98" y="442.41" width="22.52" height="5.53" fill="#1a2a34" shape-rendering="crispEdges"/>
<rect x="177.20" y="442.41" width="22.52" height="5.53" fill="#6a5820" shape-rendering="crispEdges"/>
<text x="201.00" y="447.02" font-size="5.7" fill="#231f20" stroke="#231f20" stroke-width="0.12" >Plekhg1</text>
<rect x="66.10" y="447.63" width="22.52" height="5.53" fill="#302414" shape-rendering="crispEdges"/>
<rect x="88.32" y="447.63" width="22.52" height="5.53" fill="#4a3a18" shape-rendering="crispEdges"/>
<rect x="110.54" y="447.63" width="22.52" height="5.53" fill="#1e3a48" shape-rendering="crispEdges"/>
<rect x="132.76" y="447.63" width="22.52" height="5.53" fill="#6a5420" shape-rendering="crispEdges"/>
<rect x="154.98" y="447.63" width="22.52" height="5.53" fill="#3a6a88" shape-rendering="crispEdges"/>
<rect x="177.20" y="447.63" width="22.52" height="5.53" fill="#4a98cc" shape-rendering="crispEdges"/>
<text x="201.00" y="452.25" font-size="5.7" fill="#231f20" stroke="#231f20" stroke-width="0.12" >Kalrn</text>
<rect x="66.10" y="452.86" width="22.52" height="5.53" fill="#d0c020" shape-rendering="crispEdges"/>
<rect x="88.32" y="452.86" width="22.52" height="5.53" fill="#f0e020" shape-rendering="crispEdges"/>
<rect x="110.54" y="452.86" width="22.52" height="5.53" fill="#1e3a48" shape-rendering="crispEdges"/>
<rect x="132.76" y="452.86" width="22.52" height="5.53" fill="#1a2a30" shape-rendering="crispEdges"/>
<rect x="154.98" y="452.86" width="22.52" height="5.53" fill="#2a1c14" shape-rendering="crispEdges"/>
<rect x="177.20" y="452.86" width="22.52" height="5.53" fill="#1e3a48" shape-rendering="crispEdges"/>
<text x="201.00" y="457.48" font-size="5.7" fill="#231f20" stroke="#231f20" stroke-width="0.12" >Dock11</text>
<rect x="66.10" y="458.09" width="22.52" height="5.53" fill="#f0e020" shape-rendering="crispEdges"/>
<rect x="88.32" y="458.09" width="22.52" height="5.53" fill="#f0e020" shape-rendering="crispEdges"/>
<rect x="110.54" y="458.09" width="22.52" height="5.53" fill="#1a2428" shape-rendering="crispEdges"/>
<rect x="132.76" y="458.09" width="22.52" height="5.53" fill="#2a1c14" shape-rendering="crispEdges"/>
<rect x="154.98" y="458.09" width="22.52" height="5.53" fill="#1a2428" shape-rendering="crispEdges"/>
<rect x="177.20" y="458.09" width="22.52" height="5.53" fill="#1e3a48" shape-rendering="crispEdges"/>
<text x="201.00" y="462.70" font-size="5.7" fill="#231f20" stroke="#231f20" stroke-width="0.12" >Gbp6</text>
<rect x="66.10" y="463.32" width="22.52" height="5.53" fill="#f0e020" shape-rendering="crispEdges"/>
<rect x="88.32" y="463.32" width="22.52" height="5.53" fill="#f0e020" shape-rendering="crispEdges"/>
<rect x="110.54" y="463.32" width="22.52" height="5.53" fill="#1a2428" shape-rendering="crispEdges"/>
<rect x="132.76" y="463.32" width="22.52" height="5.53" fill="#1e3440" shape-rendering="crispEdges"/>
<rect x="154.98" y="463.32" width="22.52" height="5.53" fill="#2a1c14" shape-rendering="crispEdges"/>
<rect x="177.20" y="463.32" width="22.52" height="5.53" fill="#1e2e38" shape-rendering="crispEdges"/>
<text x="201.00" y="467.93" font-size="5.7" fill="#231f20" stroke="#231f20" stroke-width="0.12" >Gbp2b</text>
<rect x="66.10" y="468.54" width="22.52" height="5.53" fill="#3a7898" shape-rendering="crispEdges"/>
<rect x="88.32" y="468.54" width="22.52" height="5.53" fill="#1e3440" shape-rendering="crispEdges"/>
<rect x="110.54" y="468.54" width="22.52" height="5.53" fill="#a09028" shape-rendering="crispEdges"/>
<rect x="132.76" y="468.54" width="22.52" height="5.53" fill="#6a5a20" shape-rendering="crispEdges"/>
<rect x="154.98" y="468.54" width="22.52" height="5.53" fill="#3a2c14" shape-rendering="crispEdges"/>
<rect x="177.20" y="468.54" width="22.52" height="5.53" fill="#3a7898" shape-rendering="crispEdges"/>
<text x="201.00" y="473.16" font-size="5.7" fill="#231f20" stroke="#231f20" stroke-width="0.12" >Sgsm3</text>
<rect x="66.10" y="473.77" width="22.52" height="5.53" fill="#2a4858" shape-rendering="crispEdges"/>
<rect x="88.32" y="473.77" width="22.52" height="5.53" fill="#2e5a70" shape-rendering="crispEdges"/>
<rect x="110.54" y="473.77" width="22.52" height="5.53" fill="#8a7a28" shape-rendering="crispEdges"/>
<rect x="132.76" y="473.77" width="22.52" height="5.53" fill="#6a5a20" shape-rendering="crispEdges"/>
<rect x="154.98" y="473.77" width="22.52" height="5.53" fill="#5a4818" shape-rendering="crispEdges"/>
<rect x="177.20" y="473.77" width="22.52" height="5.53" fill="#2e6080" shape-rendering="crispEdges"/>
<text x="201.00" y="478.38" font-size="5.7" fill="#231f20" stroke="#231f20" stroke-width="0.12" >Fgd3</text>
<rect x="66.10" y="479.00" width="22.52" height="5.53" fill="#3a7090" shape-rendering="crispEdges"/>
<rect x="88.32" y="479.00" width="22.52" height="5.53" fill="#6ab8e8" shape-rendering="crispEdges"/>
<rect x="110.54" y="479.00" width="22.52" height="5.53" fill="#4a3818" shape-rendering="crispEdges"/>
<rect x="132.76" y="479.00" width="22.52" height="5.53" fill="#a89a30" shape-rendering="crispEdges"/>
<rect x="154.98" y="479.00" width="22.52" height="5.53" fill="#5a4818" shape-rendering="crispEdges"/>
<rect x="177.20" y="479.00" width="22.52" height="5.53" fill="#1e3440" shape-rendering="crispEdges"/>
<text x="201.00" y="483.61" font-size="5.7" fill="#231f20" stroke="#231f20" stroke-width="0.12" >Rapgef4</text>
<rect x="66.10" y="484.22" width="22.52" height="5.53" fill="#3a7898" shape-rendering="crispEdges"/>
<rect x="88.32" y="484.22" width="22.52" height="5.53" fill="#3a7898" shape-rendering="crispEdges"/>
<rect x="110.54" y="484.22" width="22.52" height="5.53" fill="#1e2a2c" shape-rendering="crispEdges"/>
<rect x="132.76" y="484.22" width="22.52" height="5.53" fill="#706020" shape-rendering="crispEdges"/>
<rect x="154.98" y="484.22" width="22.52" height="5.53" fill="#2a1c12" shape-rendering="crispEdges"/>
<rect x="177.20" y="484.22" width="22.52" height="5.53" fill="#3a2814" shape-rendering="crispEdges"/>
<text x="201.00" y="488.84" font-size="5.7" fill="#231f20" stroke="#231f20" stroke-width="0.12" >Dock9</text>
<rect x="66.10" y="489.45" width="22.52" height="5.53" fill="#3a7898" shape-rendering="crispEdges"/>
<rect x="88.32" y="489.45" width="22.52" height="5.53" fill="#3a7898" shape-rendering="crispEdges"/>
<rect x="110.54" y="489.45" width="22.52" height="5.53" fill="#2a1c12" shape-rendering="crispEdges"/>
<rect x="132.76" y="489.45" width="22.52" height="5.53" fill="#8a7a28" shape-rendering="crispEdges"/>
<rect x="154.98" y="489.45" width="22.52" height="5.53" fill="#1e3440" shape-rendering="crispEdges"/>
<rect x="177.20" y="489.45" width="22.52" height="5.53" fill="#3a2814" shape-rendering="crispEdges"/>
<text x="201.00" y="494.06" font-size="5.7" fill="#231f20" stroke="#231f20" stroke-width="0.12" >Rhobtb3</text>
<rect x="66.10" y="494.68" width="22.52" height="5.53" fill="#3a80a8" shape-rendering="crispEdges"/>
<rect x="88.32" y="494.68" width="22.52" height="5.53" fill="#3a7898" shape-rendering="crispEdges"/>
<rect x="110.54" y="494.68" width="22.52" height="5.53" fill="#3a2814" shape-rendering="crispEdges"/>
<rect x="132.76" y="494.68" width="22.52" height="5.53" fill="#3a2a16" shape-rendering="crispEdges"/>
<rect x="154.98" y="494.68" width="22.52" height="5.53" fill="#1e3a48" shape-rendering="crispEdges"/>
<rect x="177.20" y="494.68" width="22.52" height="5.53" fill="#4a3818" shape-rendering="crispEdges"/>
<text x="201.00" y="499.29" font-size="5.7" fill="#231f20" stroke="#231f20" stroke-width="0.12" >Dock10</text>
<rect x="66.10" y="499.90" width="22.52" height="5.53" fill="#3a7090" shape-rendering="crispEdges"/>
<rect x="88.32" y="499.90" width="22.52" height="5.53" fill="#3a7898" shape-rendering="crispEdges"/>
<rect x="110.54" y="499.90" width="22.52" height="5.53" fill="#3a2a14" shape-rendering="crispEdges"/>
<rect x="132.76" y="499.90" width="22.52" height="5.53" fill="#3a2a16" shape-rendering="crispEdges"/>
<rect x="154.98" y="499.90" width="22.52" height="5.53" fill="#3a2818" shape-rendering="crispEdges"/>
<rect x="177.20" y="499.90" width="22.52" height="5.53" fill="#1e3440" shape-rendering="crispEdges"/>
<text x="201.00" y="504.52" font-size="5.7" fill="#231f20" stroke="#231f20" stroke-width="0.12" >Myo5a</text>
<rect x="66.10" y="505.13" width="22.52" height="5.53" fill="#3a80a8" shape-rendering="crispEdges"/>
<rect x="88.32" y="505.13" width="22.52" height="5.53" fill="#2a5068" shape-rendering="crispEdges"/>
<rect x="110.54" y="505.13" width="22.52" height="5.53" fill="#1e3038" shape-rendering="crispEdges"/>
<rect x="132.76" y="505.13" width="22.52" height="5.53" fill="#3a2a16" shape-rendering="crispEdges"/>
<rect x="154.98" y="505.13" width="22.52" height="5.53" fill="#3a2818" shape-rendering="crispEdges"/>
<rect x="177.20" y="505.13" width="22.52" height="5.53" fill="#2e2014" shape-rendering="crispEdges"/>
<text x="201.00" y="509.75" font-size="5.7" fill="#231f20" stroke="#231f20" stroke-width="0.12" >Akap13</text>
<rect x="66.10" y="510.36" width="22.52" height="5.53" fill="#4a90c0" shape-rendering="crispEdges"/>
<rect x="88.32" y="510.36" width="22.52" height="5.53" fill="#2a4858" shape-rendering="crispEdges"/>
<rect x="110.54" y="510.36" width="22.52" height="5.53" fill="#8a7828" shape-rendering="crispEdges"/>
<rect x="132.76" y="510.36" width="22.52" height="5.53" fill="#6a5820" shape-rendering="crispEdges"/>
<rect x="154.98" y="510.36" width="22.52" height="5.53" fill="#1e3440" shape-rendering="crispEdges"/>
<rect x="177.20" y="510.36" width="22.52" height="5.53" fill="#2e2014" shape-rendering="crispEdges"/>
<text x="201.00" y="514.97" font-size="5.7" fill="#231f20" stroke="#231f20" stroke-width="0.12" >Als2cl</text>
<rect x="66.10" y="515.59" width="22.52" height="5.53" fill="#2e5a70" shape-rendering="crispEdges"/>
<rect x="88.32" y="515.59" width="22.52" height="5.53" fill="#1e3440" shape-rendering="crispEdges"/>
<rect x="110.54" y="515.59" width="22.52" height="5.53" fill="#3a2818" shape-rendering="crispEdges"/>
<rect x="132.76" y="515.59" width="22.52" height="5.53" fill="#3a2818" shape-rendering="crispEdges"/>
<rect x="154.98" y="515.59" width="22.52" height="5.53" fill="#2a1c14" shape-rendering="crispEdges"/>
<rect x="177.20" y="515.59" width="22.52" height="5.53" fill="#1e3038" shape-rendering="crispEdges"/>
<text x="201.00" y="520.20" font-size="5.7" fill="#231f20" stroke="#231f20" stroke-width="0.12" >Arhgef4</text>
<rect x="66.10" y="520.81" width="22.52" height="5.53" fill="#4a90c0" shape-rendering="crispEdges"/>
<rect x="88.32" y="520.81" width="22.52" height="5.53" fill="#1e3038" shape-rendering="crispEdges"/>
<rect x="110.54" y="520.81" width="22.52" height="5.53" fill="#3a2818" shape-rendering="crispEdges"/>
<rect x="132.76" y="520.81" width="22.52" height="5.53" fill="#6a5820" shape-rendering="crispEdges"/>
<rect x="154.98" y="520.81" width="22.52" height="5.53" fill="#2a1c14" shape-rendering="crispEdges"/>
<rect x="177.20" y="520.81" width="22.52" height="5.53" fill="#1e3038" shape-rendering="crispEdges"/>
<text x="201.00" y="525.43" font-size="5.7" fill="#231f20" stroke="#231f20" stroke-width="0.12" >Dock7</text>
<rect x="66.10" y="526.04" width="22.52" height="5.53" fill="#2e5a70" shape-rendering="crispEdges"/>
<rect x="88.32" y="526.04" width="22.52" height="5.53" fill="#1e3038" shape-rendering="crispEdges"/>
<rect x="110.54" y="526.04" width="22.52" height="5.53" fill="#6a5820" shape-rendering="crispEdges"/>
<rect x="132.76" y="526.04" width="22.52" height="5.53" fill="#7a6a28" shape-rendering="crispEdges"/>
<rect x="154.98" y="526.04" width="22.52" height="5.53" fill="#1e3a48" shape-rendering="crispEdges"/>
<rect x="177.20" y="526.04" width="22.52" height="5.53" fill="#3a2616" shape-rendering="crispEdges"/>
<text x="201.00" y="530.65" font-size="5.7" fill="#231f20" stroke="#231f20" stroke-width="0.12" >Cyfip1</text>
<rect x="66.10" y="531.27" width="22.52" height="5.53" fill="#2e5a70" shape-rendering="crispEdges"/>
<rect x="88.32" y="531.27" width="22.52" height="5.53" fill="#1e3440" shape-rendering="crispEdges"/>
<rect x="110.54" y="531.27" width="22.52" height="5.53" fill="#6a5820" shape-rendering="crispEdges"/>
<rect x="132.76" y="531.27" width="22.52" height="5.53" fill="#a09a30" shape-rendering="crispEdges"/>
<rect x="154.98" y="531.27" width="22.52" height="5.53" fill="#2e2014" shape-rendering="crispEdges"/>
<rect x="177.20" y="531.27" width="22.52" height="5.53" fill="#1e3038" shape-rendering="crispEdges"/>
<text x="201.00" y="535.88" font-size="5.7" fill="#231f20" stroke="#231f20" stroke-width="0.12" >Fgd4</text>
<rect x="66.10" y="536.49" width="22.52" height="5.53" fill="#4a90c0" shape-rendering="crispEdges"/>
<rect x="88.32" y="536.49" width="22.52" height="5.53" fill="#1e3440" shape-rendering="crispEdges"/>
<rect x="110.54" y="536.49" width="22.52" height="5.53" fill="#b0a030" shape-rendering="crispEdges"/>
<rect x="132.76" y="536.49" width="22.52" height="5.53" fill="#1e3a48" shape-rendering="crispEdges"/>
<rect x="154.98" y="536.49" width="22.52" height="5.53" fill="#6a5820" shape-rendering="crispEdges"/>
<rect x="177.20" y="536.49" width="22.52" height="5.53" fill="#3a2616" shape-rendering="crispEdges"/>
<text x="201.00" y="541.11" font-size="5.7" fill="#231f20" stroke="#231f20" stroke-width="0.12" >Fgd2</text>
<rect x="66.10" y="541.72" width="22.52" height="5.53" fill="#1a2a2c" shape-rendering="crispEdges"/>
<rect x="88.32" y="541.72" width="22.52" height="5.53" fill="#3a2214" shape-rendering="crispEdges"/>
<rect x="110.54" y="541.72" width="22.52" height="5.53" fill="#1e3440" shape-rendering="crispEdges"/>
<rect x="132.76" y="541.72" width="22.52" height="5.53" fill="#2e2014" shape-rendering="crispEdges"/>
<rect x="154.98" y="541.72" width="22.52" height="5.53" fill="#4a3818" shape-rendering="crispEdges"/>
<rect x="177.20" y="541.72" width="22.52" height="5.53" fill="#1e3a48" shape-rendering="crispEdges"/>
<text x="201.00" y="546.33" font-size="5.7" fill="#231f20" stroke="#231f20" stroke-width="0.12" >Plekhg6</text>
<rect x="66.10" y="546.95" width="22.52" height="5.53" fill="#1e2a2c" shape-rendering="crispEdges"/>
<rect x="88.32" y="546.95" width="22.52" height="5.53" fill="#2e5068" shape-rendering="crispEdges"/>
<rect x="110.54" y="546.95" width="22.52" height="5.53" fill="#3a2414" shape-rendering="crispEdges"/>
<rect x="132.76" y="546.95" width="22.52" height="5.53" fill="#2a1c12" shape-rendering="crispEdges"/>
<rect x="154.98" y="546.95" width="22.52" height="5.53" fill="#1e3a48" shape-rendering="crispEdges"/>
<rect x="177.20" y="546.95" width="22.52" height="5.53" fill="#3a2818" shape-rendering="crispEdges"/>
<text x="201.00" y="551.56" font-size="5.7" fill="#231f20" stroke="#231f20" stroke-width="0.12" >Prex1</text>
<rect x="66.10" y="552.17" width="22.52" height="5.53" fill="#2e5a78" shape-rendering="crispEdges"/>
<rect x="88.32" y="552.17" width="22.52" height="5.53" fill="#1a2424" shape-rendering="crispEdges"/>
<rect x="110.54" y="552.17" width="22.52" height="5.53" fill="#2a1c14" shape-rendering="crispEdges"/>
<rect x="132.76" y="552.17" width="22.52" height="5.53" fill="#3a2c16" shape-rendering="crispEdges"/>
<rect x="154.98" y="552.17" width="22.52" height="5.53" fill="#a09a30" shape-rendering="crispEdges"/>
<rect x="177.20" y="552.17" width="22.52" height="5.53" fill="#1e3038" shape-rendering="crispEdges"/>
<text x="201.00" y="556.79" font-size="5.7" fill="#231f20" stroke="#231f20" stroke-width="0.12" >Abr</text>
<rect x="66.10" y="557.40" width="22.52" height="5.53" fill="#1e3034" shape-rendering="crispEdges"/>
<rect x="88.32" y="557.40" width="22.52" height="5.53" fill="#1e3a48" shape-rendering="crispEdges"/>
<rect x="110.54" y="557.40" width="22.52" height="5.53" fill="#1e3038" shape-rendering="crispEdges"/>
<rect x="132.76" y="557.40" width="22.52" height="5.53" fill="#4a3a18" shape-rendering="crispEdges"/>
<rect x="154.98" y="557.40" width="22.52" height="5.53" fill="#6a5820" shape-rendering="crispEdges"/>
<rect x="177.20" y="557.40" width="22.52" height="5.53" fill="#2e2014" shape-rendering="crispEdges"/>
<text x="201.00" y="562.02" font-size="5.7" fill="#231f20" stroke="#231f20" stroke-width="0.12" >Arhgef7</text>
<rect x="66.10" y="562.63" width="22.52" height="5.53" fill="#1e3038" shape-rendering="crispEdges"/>
<rect x="88.32" y="562.63" width="22.52" height="5.53" fill="#1e3440" shape-rendering="crispEdges"/>
<rect x="110.54" y="562.63" width="22.52" height="5.53" fill="#3a2616" shape-rendering="crispEdges"/>
<rect x="132.76" y="562.63" width="22.52" height="5.53" fill="#1e3038" shape-rendering="crispEdges"/>
<rect x="154.98" y="562.63" width="22.52" height="5.53" fill="#8a7a28" shape-rendering="crispEdges"/>
<rect x="177.20" y="562.63" width="22.52" height="5.53" fill="#6a5820" shape-rendering="crispEdges"/>
<text x="201.00" y="567.24" font-size="5.7" fill="#231f20" stroke="#231f20" stroke-width="0.12" >Prex2</text>
<rect x="66.10" y="567.86" width="22.52" height="5.53" fill="#2a4a5c" shape-rendering="crispEdges"/>
<rect x="88.32" y="567.86" width="22.52" height="5.53" fill="#2e5a78" shape-rendering="crispEdges"/>
<rect x="110.54" y="567.86" width="22.52" height="5.53" fill="#6a5820" shape-rendering="crispEdges"/>
<rect x="132.76" y="567.86" width="22.52" height="5.53" fill="#8a7a28" shape-rendering="crispEdges"/>
<rect x="154.98" y="567.86" width="22.52" height="5.53" fill="#1e3a48" shape-rendering="crispEdges"/>
<rect x="177.20" y="567.86" width="22.52" height="5.53" fill="#b0a030" shape-rendering="crispEdges"/>
<text x="201.00" y="572.47" font-size="5.7" fill="#231f20" stroke="#231f20" stroke-width="0.12" >Rap1gap</text>
<rect x="66.10" y="573.08" width="22.52" height="5.53" fill="#2e1e14" shape-rendering="crispEdges"/>
<rect x="88.32" y="573.08" width="22.52" height="5.53" fill="#2a4a60" shape-rendering="crispEdges"/>
<rect x="110.54" y="573.08" width="22.52" height="5.53" fill="#1e3440" shape-rendering="crispEdges"/>
<rect x="132.76" y="573.08" width="22.52" height="5.53" fill="#e8e020" shape-rendering="crispEdges"/>
<rect x="154.98" y="573.08" width="22.52" height="5.53" fill="#1e2a2a" shape-rendering="crispEdges"/>
<rect x="177.20" y="573.08" width="22.52" height="5.53" fill="#4a3818" shape-rendering="crispEdges"/>
<text x="201.00" y="577.70" font-size="5.7" fill="#231f20" stroke="#231f20" stroke-width="0.12" >Mcf2l</text>
<rect x="66.10" y="578.31" width="22.52" height="5.53" fill="#1e3440" shape-rendering="crispEdges"/>
<rect x="88.32" y="578.31" width="22.52" height="5.53" fill="#3a2414" shape-rendering="crispEdges"/>
<rect x="110.54" y="578.31" width="22.52" height="5.53" fill="#b0a030" shape-rendering="crispEdges"/>
<rect x="132.76" y="578.31" width="22.52" height="5.53" fill="#a09a30" shape-rendering="crispEdges"/>
<rect x="154.98" y="578.31" width="22.52" height="5.53" fill="#1e3a48" shape-rendering="crispEdges"/>
<rect x="177.20" y="578.31" width="22.52" height="5.53" fill="#1e4050" shape-rendering="crispEdges"/>
<text x="201.00" y="582.92" font-size="5.7" fill="#231f20" stroke="#231f20" stroke-width="0.12" >Pex5</text>
<rect x="66.10" y="583.54" width="22.52" height="5.53" fill="#78c0f0" shape-rendering="crispEdges"/>
<rect x="88.32" y="583.54" width="22.52" height="5.53" fill="#3a7aa0" shape-rendering="crispEdges"/>
<rect x="110.54" y="583.54" width="22.52" height="5.53" fill="#4a3818" shape-rendering="crispEdges"/>
<rect x="132.76" y="583.54" width="22.52" height="5.53" fill="#1e3038" shape-rendering="crispEdges"/>
<rect x="154.98" y="583.54" width="22.52" height="5.53" fill="#2e1c14" shape-rendering="crispEdges"/>
<rect x="177.20" y="583.54" width="22.52" height="5.53" fill="#4a3818" shape-rendering="crispEdges"/>
<text x="201.00" y="588.15" font-size="5.7" fill="#231f20" stroke="#231f20" stroke-width="0.12" >Arhgef28</text>
<rect x="66.10" y="588.76" width="22.52" height="5.53" fill="#78c0f0" shape-rendering="crispEdges"/>
<rect x="88.32" y="588.76" width="22.52" height="5.53" fill="#3a80a8" shape-rendering="crispEdges"/>
<rect x="110.54" y="588.76" width="22.52" height="5.53" fill="#2e2014" shape-rendering="crispEdges"/>
<rect x="132.76" y="588.76" width="22.52" height="5.53" fill="#807028" shape-rendering="crispEdges"/>
<rect x="154.98" y="588.76" width="22.52" height="5.53" fill="#c0b030" shape-rendering="crispEdges"/>
<rect x="177.20" y="588.76" width="22.52" height="5.53" fill="#1e3038" shape-rendering="crispEdges"/>
<text x="201.00" y="593.38" font-size="5.7" fill="#231f20" stroke="#231f20" stroke-width="0.12" >Itsn1</text>
<rect x="66.10" y="593.99" width="22.52" height="5.53" fill="#78c0f0" shape-rendering="crispEdges"/>
<rect x="88.32" y="593.99" width="22.52" height="5.53" fill="#78c0f0" shape-rendering="crispEdges"/>
<rect x="110.54" y="593.99" width="22.52" height="5.53" fill="#2e2014" shape-rendering="crispEdges"/>
<rect x="132.76" y="593.99" width="22.52" height="5.53" fill="#1e3038" shape-rendering="crispEdges"/>
<rect x="154.98" y="593.99" width="22.52" height="5.53" fill="#6a5820" shape-rendering="crispEdges"/>
<rect x="177.20" y="593.99" width="22.52" height="5.53" fill="#3a2c16" shape-rendering="crispEdges"/>
<text x="201.00" y="598.60" font-size="5.7" fill="#231f20" stroke="#231f20" stroke-width="0.12" >Eps8</text>
<rect x="62.70" y="421.50" width="2.40" height="47.04" fill="#c81c8c" />
<rect x="62.70" y="468.54" width="2.40" height="130.68" fill="#7ab836" />
<line x1="66.50" y1="418.60" x2="107.30" y2="418.60" stroke="#000" stroke-width="1.1" />
<line x1="113.50" y1="418.60" x2="153.80" y2="418.60" stroke="#000" stroke-width="1.1" />
<line x1="157.90" y1="418.60" x2="198.30" y2="418.60" stroke="#000" stroke-width="1.1" />
<text x="87.00" y="415.40" font-size="6.6" fill="#231f20" stroke="#231f20" stroke-width="0.14" text-anchor="middle" >Wt</text>
<text x="131.80" y="407.00" font-size="6.6" fill="#231f20" stroke="#231f20" stroke-width="0.14" textLength="15.00" lengthAdjust="spacingAndGlyphs" text-anchor="middle" >Taz<tspan font-size="3.6" dy="-2.4">Δ/Δ</tspan><tspan dy="2.4">&#8203;</tspan>;</text>
<text x="133.90" y="415.60" font-size="6.6" fill="#231f20" stroke="#231f20" stroke-width="0.14" textLength="22.50" lengthAdjust="spacingAndGlyphs" text-anchor="middle" >Yap1<tspan font-size="3.6" dy="-2.4">Δ/Δ</tspan><tspan dy="2.4">&#8203;</tspan></text>
<text x="176.40" y="407.00" font-size="6.6" fill="#231f20" stroke="#231f20" stroke-width="0.14" textLength="36.50" lengthAdjust="spacingAndGlyphs" text-anchor="middle" >Scribble<tspan font-size="3.6" dy="-2.4">Δ/Δ</tspan><tspan dy="2.4">&#8203;</tspan>;</text>
<text x="177.80" y="415.60" font-size="6.6" fill="#231f20" stroke="#231f20" stroke-width="0.14" textLength="40.00" lengthAdjust="spacingAndGlyphs" text-anchor="middle" >Taz<tspan font-size="3.6" dy="-2.4">Δ/Δ</tspan><tspan dy="2.4">&#8203;</tspan>;Yap1<tspan font-size="3.6" dy="-2.4">Δ/Δ</tspan><tspan dy="2.4">&#8203;</tspan></text>
<polyline points="53.20,436.40 53.20,450.10" stroke="#e05060" stroke-width="0.6" fill="none" />
<polyline points="45.00,443.30 53.20,443.30" stroke="#e05060" stroke-width="0.6" fill="none" />
<polyline points="45.00,443.30 45.00,462.50 54.50,462.50" stroke="#e05060" stroke-width="0.6" fill="none" />
<polyline points="54.50,458.00 54.50,466.40" stroke="#e05060" stroke-width="0.6" fill="none" />
<polyline points="54.50,458.00 60.00,458.00" stroke="#e05060" stroke-width="0.6" fill="none" />
<polyline points="54.50,466.40 61.50,466.40" stroke="#e05060" stroke-width="0.6" fill="none" />
<polyline points="53.20,450.10 62.00,450.10" stroke="#e05060" stroke-width="0.6" fill="none" />
<polyline points="53.20,436.40 57.00,436.40 57.00,430.00 59.00,430.00" stroke="#e05060" stroke-width="0.6" fill="none" />
<polyline points="57.00,441.00 58.50,441.00 58.50,438.00 60.50,438.00" stroke="#e05060" stroke-width="0.6" fill="none" />
<polyline points="59.00,426.00 59.00,433.00 61.50,433.00" stroke="#e05060" stroke-width="0.6" fill="none" />
<polyline points="59.00,426.00 61.50,426.00 61.50,424.00 62.00,424.00" stroke="#e05060" stroke-width="0.6" fill="none" />
<polyline points="57.00,436.40 57.00,441.00" stroke="#e05060" stroke-width="0.6" fill="none" />
<polyline points="58.50,438.00 58.50,445.00 61.50,445.00" stroke="#e05060" stroke-width="0.6" fill="none" />
<polyline points="58.50,460.00 62.00,460.00" stroke="#e05060" stroke-width="0.6" fill="none" />
<polyline points="45.00,453.00 32.30,453.00 32.30,574.40 51.40,574.40" stroke="#8c8cd8" stroke-width="0.9" fill="none" />
<polyline points="51.40,556.20 51.40,592.60" stroke="#7ab85a" stroke-width="0.5" fill="none" />
<polyline points="51.40,556.20 55.50,556.20" stroke="#7ab85a" stroke-width="0.5" fill="none" />
<polyline points="51.40,592.60 58.00,592.60" stroke="#7ab85a" stroke-width="0.5" fill="none" />
<polyline points="55.50,536.00 55.50,570.00" stroke="#7ab85a" stroke-width="0.5" fill="none" />
<polyline points="55.50,536.00 57.00,536.00 57.00,518.00 56.50,518.00 56.50,480.00" stroke="#7ab85a" stroke-width="0.5" fill="none" />
<polyline points="56.50,480.00 56.50,471.00 60.00,471.00" stroke="#7ab85a" stroke-width="0.5" fill="none" />
<polyline points="57.00,518.00 58.50,518.00 58.50,530.00 60.50,530.00" stroke="#7ab85a" stroke-width="0.5" fill="none" />
<polyline points="55.50,570.00 58.00,570.00 58.00,578.00 61.00,578.00" stroke="#7ab85a" stroke-width="0.5" fill="none" />
<polyline points="58.00,585.00 58.00,598.00 61.00,598.00" stroke="#7ab85a" stroke-width="0.5" fill="none" />
<polyline points="58.00,560.00 61.00,560.00 61.00,565.00" stroke="#7ab85a" stroke-width="0.5" fill="none" />
<polyline points="58.50,475.00 61.80,475.00" stroke="#7ab85a" stroke-width="0.4" fill="none" />
<polyline points="58.50,485.00 61.80,485.00" stroke="#7ab85a" stroke-width="0.4" fill="none" />
<polyline points="58.50,492.00 61.80,492.00" stroke="#7ab85a" stroke-width="0.4" fill="none" />
<polyline points="58.50,500.00 61.80,500.00" stroke="#7ab85a" stroke-width="0.4" fill="none" />
<polyline points="58.50,508.00 61.80,508.00" stroke="#7ab85a" stroke-width="0.4" fill="none" />
<polyline points="58.50,515.00 61.80,515.00" stroke="#7ab85a" stroke-width="0.4" fill="none" />
<polyline points="58.50,525.00 61.80,525.00" stroke="#7ab85a" stroke-width="0.4" fill="none" />
<polyline points="58.50,540.00 61.80,540.00" stroke="#7ab85a" stroke-width="0.4" fill="none" />
<polyline points="58.50,548.00 61.80,548.00" stroke="#7ab85a" stroke-width="0.4" fill="none" />
<polyline points="58.50,552.00 61.80,552.00" stroke="#7ab85a" stroke-width="0.4" fill="none" />
<polyline points="58.50,565.00 61.80,565.00" stroke="#7ab85a" stroke-width="0.4" fill="none" />
<polyline points="58.50,582.00 61.80,582.00" stroke="#7ab85a" stroke-width="0.4" fill="none" />
<polyline points="58.50,588.00 61.80,588.00" stroke="#7ab85a" stroke-width="0.4" fill="none" />
<polyline points="58.50,595.00 61.80,595.00" stroke="#7ab85a" stroke-width="0.4" fill="none" />
<polyline points="58.50,475.00 58.50,515.00" stroke="#7ab85a" stroke-width="0.4" fill="none" />
<polyline points="59.50,540.00 59.50,552.00" stroke="#7ab85a" stroke-width="0.4" fill="none" />
<polyline points="59.50,582.00 59.50,595.00" stroke="#7ab85a" stroke-width="0.4" fill="none" />
<defs><linearGradient id="cb" x1="0" x2="1" y1="0" y2="0"><stop offset="0" stop-color="#7ac0ee"/><stop offset="0.25" stop-color="#3a78a0"/><stop offset="0.5" stop-color="#161410"/><stop offset="0.75" stop-color="#7a6a20"/><stop offset="1" stop-color="#f2e620"/></linearGradient></defs>
<rect x="66.20" y="600.80" width="57.50" height="6.10" fill="url(#cb)" />
<text transform="translate(69.20 609.40) rotate(-45)" font-size="4.0" fill="#444" stroke="#444" stroke-width="0.22" text-anchor="end" >-1.00</text>
<line x1="68.00" y1="605.60" x2="68.00" y2="606.90" stroke="#222" stroke-width="0.4" />
<text transform="translate(75.76 609.40) rotate(-45)" font-size="4.0" fill="#444" stroke="#444" stroke-width="0.22" text-anchor="end" >-0.75</text>
<line x1="74.56" y1="605.60" x2="74.56" y2="606.90" stroke="#222" stroke-width="0.4" />
<text transform="translate(82.32 609.40) rotate(-45)" font-size="4.0" fill="#444" stroke="#444" stroke-width="0.22" text-anchor="end" >-0.50</text>
<line x1="81.12" y1="605.60" x2="81.12" y2="606.90" stroke="#222" stroke-width="0.4" />
<text transform="translate(88.88 609.40) rotate(-45)" font-size="4.0" fill="#444" stroke="#444" stroke-width="0.22" text-anchor="end" >-0.25</text>
<line x1="87.68" y1="605.60" x2="87.68" y2="606.90" stroke="#222" stroke-width="0.4" />
<text transform="translate(95.44 609.40) rotate(-45)" font-size="4.0" fill="#444" stroke="#444" stroke-width="0.22" text-anchor="end" >0.00</text>
<line x1="94.24" y1="605.60" x2="94.24" y2="606.90" stroke="#222" stroke-width="0.4" />
<text transform="translate(102.00 609.40) rotate(-45)" font-size="4.0" fill="#444" stroke="#444" stroke-width="0.22" text-anchor="end" >0.25</text>
<line x1="100.80" y1="605.60" x2="100.80" y2="606.90" stroke="#222" stroke-width="0.4" />
<text transform="translate(108.56 609.40) rotate(-45)" font-size="4.0" fill="#444" stroke="#444" stroke-width="0.22" text-anchor="end" >0.50</text>
<line x1="107.36" y1="605.60" x2="107.36" y2="606.90" stroke="#222" stroke-width="0.4" />
<text transform="translate(115.12 609.40) rotate(-45)" font-size="4.0" fill="#444" stroke="#444" stroke-width="0.22" text-anchor="end" >0.75</text>
<line x1="113.92" y1="605.60" x2="113.92" y2="606.90" stroke="#222" stroke-width="0.4" />
<text transform="translate(121.68 609.40) rotate(-45)" font-size="4.0" fill="#444" stroke="#444" stroke-width="0.22" text-anchor="end" >1.00</text>
<line x1="120.48" y1="605.60" x2="120.48" y2="606.90" stroke="#222" stroke-width="0.4" />
<text x="66.80" y="621.40" font-size="5.6" fill="#333" stroke="#333" stroke-width="0.12" textLength="56.50" lengthAdjust="spacingAndGlyphs" >Differential expression (log2)</text>
<defs><filter id="bb1" x="-50%" y="-150%" width="200%" height="400%"><feGaussianBlur stdDeviation="0.8 0.6"/></filter><filter id="bb2" x="-50%" y="-80%" width="200%" height="260%"><feGaussianBlur stdDeviation="1.4 0.9"/></filter></defs>
<text x="301.1" y="333.2" font-size="11.8" font-weight="bold" fill="#000" stroke="#000" stroke-width="0.35">H</text>
<text x="334.00" y="345.90" font-size="6.2" fill="#000" stroke="#000" stroke-width="0.14" textLength="30.40" lengthAdjust="spacingAndGlyphs" font-weight="bold" text-anchor="middle" >Rac1-GTP</text>
<text x="334.30" y="354.30" font-size="6.6" fill="#333" stroke="#333" stroke-width="0.14" textLength="43.10" lengthAdjust="spacingAndGlyphs" text-anchor="middle" >PAK Pull down</text>
<text x="334.00" y="369.10" font-size="6.2" fill="#000" stroke="#000" stroke-width="0.14" textLength="20.40" lengthAdjust="spacingAndGlyphs" font-weight="bold" text-anchor="middle" >β-actin</text>
<rect x="359.40" y="339.00" width="83.20" height="16.00" fill="#d2d2d2" stroke="#111" stroke-width="1.2"/>
<rect x="364.00" y="346.30" width="11.40" height="2.40" rx="1.20" fill="#606060" filter="url(#bb1)"/>
<rect x="384.00" y="346.95" width="10.60" height="1.90" rx="0.95" fill="#8a8a8a" filter="url(#bb1)"/>
<rect x="404.00" y="346.20" width="12.00" height="2.60" rx="1.30" fill="#4a4a4a" filter="url(#bb1)"/>
<rect x="424.20" y="345.70" width="14.00" height="3.60" rx="1.80" fill="#1a1a1a" filter="url(#bb1)"/>
<rect x="359.40" y="359.00" width="83.20" height="15.80" fill="#bcbcbc" stroke="#111" stroke-width="1.2"/>
<rect x="363.60" y="366.70" width="17.80" height="4.40" rx="2.20" fill="#0e0e0e" filter="url(#bb1)"/>
<rect x="383.00" y="366.90" width="17.80" height="4.20" rx="2.10" fill="#121212" filter="url(#bb1)"/>
<rect x="402.20" y="366.90" width="18.40" height="4.60" rx="2.30" fill="#0a0a0a" filter="url(#bb1)"/>
<rect x="421.40" y="367.10" width="17.60" height="4.20" rx="2.10" fill="#141414" filter="url(#bb1)"/>
<line x1="442.70" y1="348.70" x2="450.00" y2="348.70" stroke="#111" stroke-width="0.9" />
<line x1="442.70" y1="361.70" x2="450.00" y2="361.70" stroke="#111" stroke-width="0.9" />
<text x="453.20" y="350.90" font-size="6.6" fill="#222" stroke="#222" stroke-width="0.14" textLength="7.00" lengthAdjust="spacingAndGlyphs" >20</text>
<text x="453.20" y="363.90" font-size="6.6" fill="#222" stroke="#222" stroke-width="0.14" textLength="7.00" lengthAdjust="spacingAndGlyphs" >50</text>
<text transform="translate(376.90 382.40) rotate(-45)" font-size="6.5" fill="#231f20" stroke="#231f20" stroke-width="0.14" text-anchor="end" >Wt</text>
<text transform="translate(395.50 381.40) rotate(-45)" font-size="6.5" fill="#231f20" stroke="#231f20" stroke-width="0.14" textLength="31.00" lengthAdjust="spacingAndGlyphs" text-anchor="end" >Scribble<tspan font-size="3.6" dy="-2.3">Δ/Δ</tspan><tspan dy="2.3">&#8203;</tspan></text>
<text transform="translate(414.80 381.40) rotate(-45)" font-size="6.5" fill="#231f20" stroke="#231f20" stroke-width="0.14" textLength="37.50" lengthAdjust="spacingAndGlyphs" text-anchor="end" >Taz<tspan font-size="3.6" dy="-2.3">Δ/Δ</tspan><tspan dy="2.3">&#8203;</tspan>;Yap<tspan font-size="3.6" dy="-2.3">Δ/Δ</tspan><tspan dy="2.3">&#8203;</tspan></text>
<text transform="translate(436.30 381.90) rotate(-45)" font-size="6.5" fill="#231f20" stroke="#231f20" stroke-width="0.14" textLength="35.00" lengthAdjust="spacingAndGlyphs" text-anchor="end" >Scribble<tspan font-size="3.6" dy="-2.3">Δ/Δ</tspan><tspan dy="2.3">&#8203;</tspan>;</text>
<text transform="translate(439.00 387.40) rotate(-45)" font-size="6.5" fill="#231f20" stroke="#231f20" stroke-width="0.14" textLength="35.50" lengthAdjust="spacingAndGlyphs" text-anchor="end" >Taz<tspan font-size="3.6" dy="-2.3">Δ/Δ</tspan><tspan dy="2.3">&#8203;</tspan>;Yap<tspan font-size="3.6" dy="-2.3">Δ/Δ</tspan><tspan dy="2.3">&#8203;</tspan></text>
<rect x="300.8" y="431.2" width="1.9" height="8.4" fill="#000"/>
<text x="331.70" y="451.90" font-size="6.2" fill="#000" stroke="#000" stroke-width="0.14" textLength="35.00" lengthAdjust="spacingAndGlyphs" font-weight="bold" text-anchor="middle" >Cdc42-GTP</text>
<text x="331.60" y="460.30" font-size="6.6" fill="#333" stroke="#333" stroke-width="0.14" textLength="43.30" lengthAdjust="spacingAndGlyphs" text-anchor="middle" >PAK Pull down</text>
<text x="331.20" y="475.80" font-size="6.2" fill="#000" stroke="#000" stroke-width="0.14" textLength="20.70" lengthAdjust="spacingAndGlyphs" font-weight="bold" text-anchor="middle" >β-actin</text>
<rect x="358.20" y="445.50" width="85.30" height="15.60" fill="#cacaca" stroke="#111" stroke-width="1.2"/>
<rect x="366.50" y="453.50" width="13.30" height="3.60" rx="1.80" fill="#0a0a0a" filter="url(#bb1)"/>
<rect x="386.00" y="453.60" width="12.40" height="2.40" rx="1.20" fill="#4e4e4e" filter="url(#bb1)"/>
<rect x="405.40" y="451.90" width="13.30" height="3.40" rx="1.70" fill="#0c0c0c" filter="url(#bb1)"/>
<rect x="425.80" y="453.70" width="12.40" height="1.80" rx="0.90" fill="#aaaaaa" filter="url(#bb1)"/>
<rect x="358.20" y="464.10" width="85.30" height="15.90" fill="#c2c2c2" stroke="#111" stroke-width="1.2"/>
<rect x="361.20" y="473.00" width="17.70" height="2.40" rx="1.20" fill="#787878" filter="url(#bb1)"/>
<rect x="382.40" y="473.50" width="16.80" height="2.20" rx="1.10" fill="#7e7e7e" filter="url(#bb1)"/>
<rect x="402.80" y="473.30" width="17.70" height="3.00" rx="1.50" fill="#555555" filter="url(#bb1)"/>
<rect x="423.10" y="473.85" width="17.70" height="2.30" rx="1.15" fill="#828282" filter="url(#bb1)"/>
<line x1="443.40" y1="451.50" x2="448.50" y2="451.50" stroke="#111" stroke-width="0.9" />
<line x1="443.40" y1="467.20" x2="448.50" y2="467.20" stroke="#111" stroke-width="0.9" />
<text x="452.00" y="453.70" font-size="6.6" fill="#222" stroke="#222" stroke-width="0.14" textLength="7.00" lengthAdjust="spacingAndGlyphs" >25</text>
<text x="452.00" y="469.40" font-size="6.6" fill="#222" stroke="#222" stroke-width="0.14" textLength="7.00" lengthAdjust="spacingAndGlyphs" >50</text>
<text transform="translate(374.20 487.50) rotate(-45)" font-size="6.5" fill="#231f20" stroke="#231f20" stroke-width="0.14" text-anchor="end" >Wt</text>
<text transform="translate(395.00 487.00) rotate(-45)" font-size="6.5" fill="#231f20" stroke="#231f20" stroke-width="0.14" textLength="31.00" lengthAdjust="spacingAndGlyphs" text-anchor="end" >Scribble<tspan font-size="3.6" dy="-2.3">Δ/Δ</tspan><tspan dy="2.3">&#8203;</tspan></text>
<text transform="translate(416.40 487.50) rotate(-45)" font-size="6.5" fill="#231f20" stroke="#231f20" stroke-width="0.14" textLength="37.50" lengthAdjust="spacingAndGlyphs" text-anchor="end" >Taz<tspan font-size="3.6" dy="-2.3">Δ/Δ</tspan><tspan dy="2.3">&#8203;</tspan>;Yap<tspan font-size="3.6" dy="-2.3">Δ/Δ</tspan><tspan dy="2.3">&#8203;</tspan></text>
<text transform="translate(436.50 486.50) rotate(-45)" font-size="6.5" fill="#231f20" stroke="#231f20" stroke-width="0.14" textLength="35.00" lengthAdjust="spacingAndGlyphs" text-anchor="end" >Scribble<tspan font-size="3.6" dy="-2.3">Δ/Δ</tspan><tspan dy="2.3">&#8203;</tspan>;</text>
<text transform="translate(441.70 493.50) rotate(-45)" font-size="6.5" fill="#231f20" stroke="#231f20" stroke-width="0.14" textLength="35.50" lengthAdjust="spacingAndGlyphs" text-anchor="end" >Taz<tspan font-size="3.6" dy="-2.3">Δ/Δ</tspan><tspan dy="2.3">&#8203;</tspan>;Yap<tspan font-size="3.6" dy="-2.3">Δ/Δ</tspan><tspan dy="2.3">&#8203;</tspan></text>
<text x="242.2" y="523.5" font-size="11.8" font-weight="bold" fill="#000" stroke="#000" stroke-width="0.35">J</text>
<ellipse cx="290.6" cy="539.8" rx="24.6" ry="10.9" fill="#e2666c" stroke="#d0202c" stroke-width="0.9"/>
<text x="290.60" y="542.20" font-size="6.4" fill="#fff" stroke="#fff" stroke-width="0.05" textLength="22.00" lengthAdjust="spacingAndGlyphs" text-anchor="middle" >Scribble</text>
<ellipse cx="325.4" cy="544.3" rx="11.4" ry="7.1" fill="#b390cc" stroke="#a27cc0" stroke-width="0.6"/>
<text x="325.40" y="546.40" font-size="5.8" fill="#fff" stroke="#fff" stroke-width="0.05" textLength="15.50" lengthAdjust="spacingAndGlyphs" text-anchor="middle" >Cdc42</text>
<ellipse cx="270.2" cy="557.6" rx="19.3" ry="9.1" fill="#44a044" stroke="#2e8a34" stroke-width="0.6"/>
<text x="270.40" y="560.00" font-size="6.4" fill="#fff" stroke="#fff" stroke-width="0.05" textLength="19.50" lengthAdjust="spacingAndGlyphs" text-anchor="middle" >Lats1/2</text>
<ellipse cx="255.6" cy="547.9" rx="3.9" ry="3.5" fill="#f6e21c" stroke="#e8a010" stroke-width="0.7"/>
<text x="255.70" y="549.60" font-size="4.4" fill="#5a4a10" stroke="#5a4a10" stroke-width="0.14" text-anchor="middle" >P</text>
<rect x="290.4" y="551.3" width="32.7" height="12.2" rx="1.6" fill="#d9431f" stroke="#c03010" stroke-width="0.5"/>
<text x="306.80" y="560.00" font-size="6.4" fill="#fff" stroke="#fff" stroke-width="0.05" textLength="25.00" lengthAdjust="spacingAndGlyphs" text-anchor="middle" >Yap1/Taz</text>
<path d="M344.4,543.6 C348.8,548.5 349,558 343.5,563.2 C338,567.2 330.5,562 326.0,555.2 C331,557.8 337.5,557.2 341,553.0 C343.2,550 344.2,547 344.4,543.6 Z" fill="#2a2290"/>
<polygon points="343.86,552.11 340.81,552.94 342.59,555.32 339.46,554.77 339.82,557.63 337.32,555.83 336.16,558.51 334.88,555.88 332.48,557.76 332.70,554.90 329.59,555.56 331.27,553.12 328.18,552.40 330.93,550.94 328.56,549.02 331.74,548.87 330.64,546.18 333.54,547.38 333.95,544.53 335.89,546.81 337.73,544.46 338.28,547.29 341.11,545.98 340.14,548.71 343.33,548.74 341.05,550.75" fill="#e8401e"/>
<ellipse cx="336.0" cy="551.4" rx="4.9" ry="3.7" fill="#fff" transform="rotate(-35 336.0 551.4)"/>
<ellipse cx="336.0" cy="551.4" rx="3.6" ry="2.3" fill="#78b8cc" transform="rotate(-35 336.0 551.4)"/>
<text transform="translate(339.40 561.60) rotate(-50)" font-size="5.0" fill="#fff" text-anchor="middle" >GEF</text>
<line x1="326.60" y1="564.20" x2="326.60" y2="574.50" stroke="#22a03a" stroke-width="1.1" stroke-dasharray="2 1.4"/>
<path d="M324.6,574.2 L326.6,576.8 L328.6,574.2 Z" fill="#22a03a"/>
<circle cx="306.9" cy="585.3" r="8.35" fill="#f2b21a" stroke="#111" stroke-width="1.05"/>
<circle cx="306.9" cy="585.3" r="5.75" fill="#3a63a8"/>
<circle cx="342.3" cy="585.3" r="8.35" fill="#f2b21a" stroke="#111" stroke-width="1.05"/>
<circle cx="342.3" cy="585.3" r="5.75" fill="#3a63a8"/>
<line x1="319.30" y1="584.80" x2="328.50" y2="584.80" stroke="#111" stroke-width="0.9" />
<path d="M327.6,582.9 L330.6,584.8 L327.6,586.7 Z" fill="#111"/>
<path d="M347.6,574.6 A 6.6 6.6 0 0 1 353.6,583.6" fill="none" stroke="#1a1a48" stroke-width="1.5"/>
<path d="M345.2,575.4 L349.2,572.2 L349.6,577.6 Z" fill="#1a1a48"/>
<text x="306.80" y="601.90" font-size="6.2" fill="#444" stroke="#444" stroke-width="0.05" textLength="18.00" lengthAdjust="spacingAndGlyphs" text-anchor="middle" >G<tspan font-size="3.4" dy="1.2">0</tspan><tspan dy="-1.2"> HSC</tspan></text>
<text x="377.40" y="558.60" font-size="6.2" fill="#333" stroke="#333" stroke-width="0.08" textLength="23.00" lengthAdjust="spacingAndGlyphs" text-anchor="middle" >Balanced</text>
<text x="377.40" y="565.60" font-size="6.2" fill="#333" stroke="#333" stroke-width="0.08" textLength="41.30" lengthAdjust="spacingAndGlyphs" text-anchor="middle" >Self-renewal and</text>
<text x="377.40" y="572.30" font-size="6.2" fill="#333" stroke="#333" stroke-width="0.08" textLength="38.00" lengthAdjust="spacingAndGlyphs" text-anchor="middle" >asymmetric cell</text>
<text x="377.40" y="579.00" font-size="6.2" fill="#333" stroke="#333" stroke-width="0.08" textLength="19.30" lengthAdjust="spacingAndGlyphs" text-anchor="middle" >division</text>
<rect x="0.5" y="0.5" width="519" height="631" fill="none" stroke="#000" stroke-width="1"/>
</svg>
</body></html>
